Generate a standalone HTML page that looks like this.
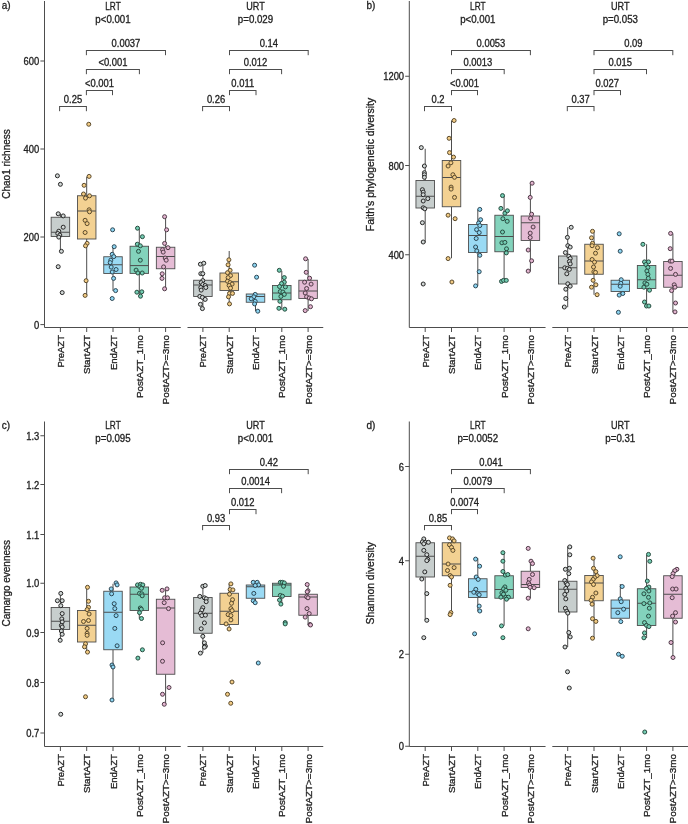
<!DOCTYPE html>
<html><head><meta charset="utf-8"><style>
html,body{margin:0;padding:0;background:#fff;}
svg{display:block;font-family:"Liberation Sans", sans-serif;will-change:transform;filter:blur(0.25px);}
text{stroke:#222;stroke-width:0.3px;}
</style></head><body>
<svg width="688" height="824" viewBox="0 0 688 824">
<rect width="688" height="824" fill="#fff"/>
<text x="1.75" y="8.70" font-size="10" text-anchor="start" fill="#222222" textLength="8.89" lengthAdjust="spacingAndGlyphs">a)</text>
<line x1="44.50" y1="1.00" x2="44.50" y2="327.50" stroke="#4d4d4d" stroke-width="1"/>
<line x1="44.50" y1="327.50" x2="180.75" y2="327.50" stroke="#4d4d4d" stroke-width="1"/>
<line x1="187.50" y1="327.50" x2="323.25" y2="327.50" stroke="#4d4d4d" stroke-width="1"/>
<line x1="40.40" y1="324.60" x2="44.50" y2="324.60" stroke="#4d4d4d" stroke-width="1"/>
<text x="39.30" y="328.70" font-size="10" text-anchor="end" fill="#222222" textLength="5.23" lengthAdjust="spacingAndGlyphs">0</text>
<line x1="40.40" y1="237.00" x2="44.50" y2="237.00" stroke="#4d4d4d" stroke-width="1"/>
<text x="39.30" y="241.10" font-size="10" text-anchor="end" fill="#222222" textLength="15.68" lengthAdjust="spacingAndGlyphs">200</text>
<line x1="40.40" y1="149.00" x2="44.50" y2="149.00" stroke="#4d4d4d" stroke-width="1"/>
<text x="39.30" y="153.10" font-size="10" text-anchor="end" fill="#222222" textLength="15.68" lengthAdjust="spacingAndGlyphs">400</text>
<line x1="40.40" y1="61.00" x2="44.50" y2="61.00" stroke="#4d4d4d" stroke-width="1"/>
<text x="39.30" y="65.10" font-size="10" text-anchor="end" fill="#222222" textLength="15.68" lengthAdjust="spacingAndGlyphs">600</text>
<text x="9.80" y="164.00" font-size="10" text-anchor="middle" fill="#222222" textLength="69.5" lengthAdjust="spacingAndGlyphs" transform="rotate(-90 9.80 164.00)">Chao1 richness</text>
<line x1="60.40" y1="327.50" x2="60.40" y2="332.00" stroke="#4d4d4d" stroke-width="1"/>
<text x="64.00" y="335.10" font-size="9.7" text-anchor="end" fill="#222222" textLength="32.5" lengthAdjust="spacingAndGlyphs" transform="rotate(-90 64.00 335.10)">PreAZT</text>
<line x1="86.70" y1="327.50" x2="86.70" y2="332.00" stroke="#4d4d4d" stroke-width="1"/>
<text x="90.30" y="335.10" font-size="9.7" text-anchor="end" fill="#222222" textLength="39" lengthAdjust="spacingAndGlyphs" transform="rotate(-90 90.30 335.10)">StartAZT</text>
<line x1="113.00" y1="327.50" x2="113.00" y2="332.00" stroke="#4d4d4d" stroke-width="1"/>
<text x="116.60" y="335.10" font-size="9.7" text-anchor="end" fill="#222222" textLength="35" lengthAdjust="spacingAndGlyphs" transform="rotate(-90 116.60 335.10)">EndAZT</text>
<line x1="139.30" y1="327.50" x2="139.30" y2="332.00" stroke="#4d4d4d" stroke-width="1"/>
<text x="142.90" y="335.10" font-size="9.7" text-anchor="end" fill="#222222" textLength="63" lengthAdjust="spacingAndGlyphs" transform="rotate(-90 142.90 335.10)">PostAZT_1mo</text>
<line x1="165.60" y1="327.50" x2="165.60" y2="332.00" stroke="#4d4d4d" stroke-width="1"/>
<text x="169.20" y="335.10" font-size="9.7" text-anchor="end" fill="#222222" textLength="69.3" lengthAdjust="spacingAndGlyphs" transform="rotate(-90 169.20 335.10)">PostAZT&gt;=3mo</text>
<text x="113.00" y="9.50" font-size="10" text-anchor="middle" fill="#222222" textLength="15.5" lengthAdjust="spacingAndGlyphs">LRT</text>
<text x="113.00" y="23.00" font-size="10" text-anchor="middle" fill="#222222" textLength="35.33" lengthAdjust="spacingAndGlyphs">p&lt;0.001</text>
<line x1="202.90" y1="327.50" x2="202.90" y2="332.00" stroke="#4d4d4d" stroke-width="1"/>
<text x="206.50" y="335.10" font-size="9.7" text-anchor="end" fill="#222222" textLength="32.5" lengthAdjust="spacingAndGlyphs" transform="rotate(-90 206.50 335.10)">PreAZT</text>
<line x1="229.20" y1="327.50" x2="229.20" y2="332.00" stroke="#4d4d4d" stroke-width="1"/>
<text x="232.80" y="335.10" font-size="9.7" text-anchor="end" fill="#222222" textLength="39" lengthAdjust="spacingAndGlyphs" transform="rotate(-90 232.80 335.10)">StartAZT</text>
<line x1="255.50" y1="327.50" x2="255.50" y2="332.00" stroke="#4d4d4d" stroke-width="1"/>
<text x="259.10" y="335.10" font-size="9.7" text-anchor="end" fill="#222222" textLength="35" lengthAdjust="spacingAndGlyphs" transform="rotate(-90 259.10 335.10)">EndAZT</text>
<line x1="281.80" y1="327.50" x2="281.80" y2="332.00" stroke="#4d4d4d" stroke-width="1"/>
<text x="285.40" y="335.10" font-size="9.7" text-anchor="end" fill="#222222" textLength="63" lengthAdjust="spacingAndGlyphs" transform="rotate(-90 285.40 335.10)">PostAZT_1mo</text>
<line x1="308.10" y1="327.50" x2="308.10" y2="332.00" stroke="#4d4d4d" stroke-width="1"/>
<text x="311.70" y="335.10" font-size="9.7" text-anchor="end" fill="#222222" textLength="69.3" lengthAdjust="spacingAndGlyphs" transform="rotate(-90 311.70 335.10)">PostAZT&gt;=3mo</text>
<text x="255.50" y="9.50" font-size="10" text-anchor="middle" fill="#222222" textLength="18.5" lengthAdjust="spacingAndGlyphs">URT</text>
<text x="255.50" y="23.00" font-size="10" text-anchor="middle" fill="#222222" textLength="35.33" lengthAdjust="spacingAndGlyphs">p=0.029</text>
<line x1="59.60" y1="106.50" x2="86.40" y2="106.50" stroke="#4d4d4d" stroke-width="1"/>
<line x1="59.60" y1="106.00" x2="59.60" y2="111.20" stroke="#4d4d4d" stroke-width="1"/>
<line x1="86.40" y1="106.00" x2="86.40" y2="111.20" stroke="#4d4d4d" stroke-width="1"/>
<text x="73.00" y="102.70" font-size="10" text-anchor="middle" fill="#222222" textLength="18.3" lengthAdjust="spacingAndGlyphs">0.25</text>
<line x1="86.40" y1="90.50" x2="112.50" y2="90.50" stroke="#4d4d4d" stroke-width="1"/>
<line x1="86.40" y1="90.00" x2="86.40" y2="95.20" stroke="#4d4d4d" stroke-width="1"/>
<line x1="112.50" y1="90.00" x2="112.50" y2="95.20" stroke="#4d4d4d" stroke-width="1"/>
<text x="99.45" y="86.70" font-size="10" text-anchor="middle" fill="#222222" textLength="29.01" lengthAdjust="spacingAndGlyphs">&lt;0.001</text>
<line x1="86.40" y1="69.50" x2="139.40" y2="69.50" stroke="#4d4d4d" stroke-width="1"/>
<line x1="86.40" y1="69.00" x2="86.40" y2="74.20" stroke="#4d4d4d" stroke-width="1"/>
<line x1="139.40" y1="69.00" x2="139.40" y2="74.20" stroke="#4d4d4d" stroke-width="1"/>
<text x="112.90" y="65.70" font-size="10" text-anchor="middle" fill="#222222" textLength="29.01" lengthAdjust="spacingAndGlyphs">&lt;0.001</text>
<line x1="86.40" y1="50.50" x2="165.50" y2="50.50" stroke="#4d4d4d" stroke-width="1"/>
<line x1="86.40" y1="50.00" x2="86.40" y2="55.20" stroke="#4d4d4d" stroke-width="1"/>
<line x1="165.50" y1="50.00" x2="165.50" y2="55.20" stroke="#4d4d4d" stroke-width="1"/>
<text x="125.95" y="46.70" font-size="10" text-anchor="middle" fill="#222222" textLength="28.75" lengthAdjust="spacingAndGlyphs">0.0037</text>
<line x1="202.60" y1="106.50" x2="229.50" y2="106.50" stroke="#4d4d4d" stroke-width="1"/>
<line x1="202.60" y1="106.00" x2="202.60" y2="111.20" stroke="#4d4d4d" stroke-width="1"/>
<line x1="229.50" y1="106.00" x2="229.50" y2="111.20" stroke="#4d4d4d" stroke-width="1"/>
<text x="216.05" y="102.70" font-size="10" text-anchor="middle" fill="#222222" textLength="18.3" lengthAdjust="spacingAndGlyphs">0.26</text>
<line x1="229.50" y1="90.50" x2="256.00" y2="90.50" stroke="#4d4d4d" stroke-width="1"/>
<line x1="229.50" y1="90.00" x2="229.50" y2="95.20" stroke="#4d4d4d" stroke-width="1"/>
<line x1="256.00" y1="90.00" x2="256.00" y2="95.20" stroke="#4d4d4d" stroke-width="1"/>
<text x="242.75" y="86.70" font-size="10" text-anchor="middle" fill="#222222" textLength="22.83" lengthAdjust="spacingAndGlyphs">0.011</text>
<line x1="229.50" y1="69.50" x2="281.60" y2="69.50" stroke="#4d4d4d" stroke-width="1"/>
<line x1="229.50" y1="69.00" x2="229.50" y2="74.20" stroke="#4d4d4d" stroke-width="1"/>
<line x1="281.60" y1="69.00" x2="281.60" y2="74.20" stroke="#4d4d4d" stroke-width="1"/>
<text x="255.55" y="65.70" font-size="10" text-anchor="middle" fill="#222222" textLength="23.52" lengthAdjust="spacingAndGlyphs">0.012</text>
<line x1="229.50" y1="50.50" x2="308.20" y2="50.50" stroke="#4d4d4d" stroke-width="1"/>
<line x1="229.50" y1="50.00" x2="229.50" y2="55.20" stroke="#4d4d4d" stroke-width="1"/>
<line x1="308.20" y1="50.00" x2="308.20" y2="55.20" stroke="#4d4d4d" stroke-width="1"/>
<text x="268.85" y="46.70" font-size="10" text-anchor="middle" fill="#222222" textLength="18.3" lengthAdjust="spacingAndGlyphs">0.14</text>
<line x1="60.40" y1="213.50" x2="60.40" y2="217.25" stroke="#4d4d4d" stroke-width="1"/>
<line x1="60.40" y1="236.50" x2="60.40" y2="251.75" stroke="#4d4d4d" stroke-width="1"/>
<rect x="51.15" y="217.25" width="18.50" height="19.25" fill="#c7cecd" stroke="#4d4d4d" stroke-width="0.9"/>
<line x1="51.15" y1="232.25" x2="69.65" y2="232.25" stroke="#4d4d4d" stroke-width="1"/>
<line x1="86.70" y1="176.75" x2="86.70" y2="195.75" stroke="#4d4d4d" stroke-width="1"/>
<line x1="86.70" y1="239.00" x2="86.70" y2="295.25" stroke="#4d4d4d" stroke-width="1"/>
<rect x="77.45" y="195.75" width="18.50" height="43.25" fill="#f3d192" stroke="#4d4d4d" stroke-width="0.9"/>
<line x1="77.45" y1="211.00" x2="95.95" y2="211.00" stroke="#4d4d4d" stroke-width="1"/>
<line x1="113.00" y1="247.25" x2="113.00" y2="256.75" stroke="#4d4d4d" stroke-width="1"/>
<line x1="113.00" y1="273.50" x2="113.00" y2="291.00" stroke="#4d4d4d" stroke-width="1"/>
<rect x="103.75" y="256.75" width="18.50" height="16.75" fill="#9adaf4" stroke="#4d4d4d" stroke-width="0.9"/>
<line x1="103.75" y1="264.75" x2="122.25" y2="264.75" stroke="#4d4d4d" stroke-width="1"/>
<line x1="139.30" y1="228.00" x2="139.30" y2="246.25" stroke="#4d4d4d" stroke-width="1"/>
<line x1="139.30" y1="273.40" x2="139.30" y2="296.50" stroke="#4d4d4d" stroke-width="1"/>
<rect x="130.05" y="246.25" width="18.50" height="27.15" fill="#83d3bc" stroke="#4d4d4d" stroke-width="0.9"/>
<line x1="130.05" y1="265.60" x2="148.55" y2="265.60" stroke="#4d4d4d" stroke-width="1"/>
<line x1="165.60" y1="216.25" x2="165.60" y2="247.25" stroke="#4d4d4d" stroke-width="1"/>
<line x1="165.60" y1="268.75" x2="165.60" y2="289.00" stroke="#4d4d4d" stroke-width="1"/>
<rect x="156.35" y="247.25" width="18.50" height="21.50" fill="#e5bcd5" stroke="#4d4d4d" stroke-width="0.9"/>
<line x1="156.35" y1="256.50" x2="174.85" y2="256.50" stroke="#4d4d4d" stroke-width="1"/>
<line x1="202.90" y1="262.00" x2="202.90" y2="280.25" stroke="#4d4d4d" stroke-width="1"/>
<line x1="202.90" y1="296.50" x2="202.90" y2="308.50" stroke="#4d4d4d" stroke-width="1"/>
<rect x="193.65" y="280.25" width="18.50" height="16.25" fill="#c7cecd" stroke="#4d4d4d" stroke-width="0.9"/>
<line x1="193.65" y1="285.00" x2="212.15" y2="285.00" stroke="#4d4d4d" stroke-width="1"/>
<line x1="229.20" y1="251.00" x2="229.20" y2="273.00" stroke="#4d4d4d" stroke-width="1"/>
<line x1="229.20" y1="290.50" x2="229.20" y2="304.00" stroke="#4d4d4d" stroke-width="1"/>
<rect x="219.95" y="273.00" width="18.50" height="17.50" fill="#f3d192" stroke="#4d4d4d" stroke-width="0.9"/>
<line x1="219.95" y1="281.75" x2="238.45" y2="281.75" stroke="#4d4d4d" stroke-width="1"/>
<line x1="255.50" y1="294.00" x2="255.50" y2="294.00" stroke="#4d4d4d" stroke-width="1"/>
<line x1="255.50" y1="302.25" x2="255.50" y2="311.00" stroke="#4d4d4d" stroke-width="1"/>
<rect x="246.25" y="294.00" width="18.50" height="8.25" fill="#9adaf4" stroke="#4d4d4d" stroke-width="0.9"/>
<line x1="246.25" y1="296.50" x2="264.75" y2="296.50" stroke="#4d4d4d" stroke-width="1"/>
<line x1="281.80" y1="271.00" x2="281.80" y2="285.50" stroke="#4d4d4d" stroke-width="1"/>
<line x1="281.80" y1="299.75" x2="281.80" y2="309.75" stroke="#4d4d4d" stroke-width="1"/>
<rect x="272.55" y="285.50" width="18.50" height="14.25" fill="#83d3bc" stroke="#4d4d4d" stroke-width="0.9"/>
<line x1="272.55" y1="293.00" x2="291.05" y2="293.00" stroke="#4d4d4d" stroke-width="1"/>
<line x1="308.10" y1="259.00" x2="308.10" y2="280.25" stroke="#4d4d4d" stroke-width="1"/>
<line x1="308.10" y1="298.50" x2="308.10" y2="311.00" stroke="#4d4d4d" stroke-width="1"/>
<rect x="298.85" y="280.25" width="18.50" height="18.25" fill="#e5bcd5" stroke="#4d4d4d" stroke-width="0.9"/>
<line x1="298.85" y1="291.00" x2="317.35" y2="291.00" stroke="#4d4d4d" stroke-width="1"/>
<circle cx="57.40" cy="175.80" r="2" fill="#d0d6d5" stroke="#262626" stroke-width="1"/>
<circle cx="60.40" cy="184.30" r="2" fill="#d0d6d5" stroke="#262626" stroke-width="1"/>
<circle cx="58.20" cy="213.80" r="2" fill="#d0d6d5" stroke="#262626" stroke-width="1"/>
<circle cx="63.20" cy="215.90" r="2" fill="#d0d6d5" stroke="#262626" stroke-width="1"/>
<circle cx="63.20" cy="227.20" r="2" fill="#d0d6d5" stroke="#262626" stroke-width="1"/>
<circle cx="58.80" cy="231.20" r="2" fill="#d0d6d5" stroke="#262626" stroke-width="1"/>
<circle cx="57.80" cy="233.50" r="2" fill="#d0d6d5" stroke="#262626" stroke-width="1"/>
<circle cx="59.80" cy="235.10" r="2" fill="#d0d6d5" stroke="#262626" stroke-width="1"/>
<circle cx="58.80" cy="237.10" r="2" fill="#d0d6d5" stroke="#262626" stroke-width="1"/>
<circle cx="61.40" cy="251.30" r="2" fill="#d0d6d5" stroke="#262626" stroke-width="1"/>
<circle cx="58.20" cy="266.70" r="2" fill="#d0d6d5" stroke="#262626" stroke-width="1"/>
<circle cx="62.20" cy="292.60" r="2" fill="#d0d6d5" stroke="#262626" stroke-width="1"/>
<circle cx="88.75" cy="124.25" r="2" fill="#f2cb84" stroke="#5a4a2c" stroke-width="1"/>
<circle cx="89.10" cy="176.40" r="2" fill="#f2cb84" stroke="#5a4a2c" stroke-width="1"/>
<circle cx="84.10" cy="185.30" r="2" fill="#f2cb84" stroke="#5a4a2c" stroke-width="1"/>
<circle cx="83.50" cy="194.00" r="2" fill="#f2cb84" stroke="#5a4a2c" stroke-width="1"/>
<circle cx="89.50" cy="195.80" r="2" fill="#f2cb84" stroke="#5a4a2c" stroke-width="1"/>
<circle cx="85.50" cy="198.10" r="2" fill="#f2cb84" stroke="#5a4a2c" stroke-width="1"/>
<circle cx="89.10" cy="209.80" r="2" fill="#f2cb84" stroke="#5a4a2c" stroke-width="1"/>
<circle cx="89.50" cy="211.80" r="2" fill="#f2cb84" stroke="#5a4a2c" stroke-width="1"/>
<circle cx="85.10" cy="220.30" r="2" fill="#f2cb84" stroke="#5a4a2c" stroke-width="1"/>
<circle cx="87.10" cy="223.60" r="2" fill="#f2cb84" stroke="#5a4a2c" stroke-width="1"/>
<circle cx="85.10" cy="232.50" r="2" fill="#f2cb84" stroke="#5a4a2c" stroke-width="1"/>
<circle cx="87.10" cy="243.40" r="2" fill="#f2cb84" stroke="#5a4a2c" stroke-width="1"/>
<circle cx="85.50" cy="245.80" r="2" fill="#f2cb84" stroke="#5a4a2c" stroke-width="1"/>
<circle cx="86.10" cy="280.70" r="2" fill="#f2cb84" stroke="#5a4a2c" stroke-width="1"/>
<circle cx="85.10" cy="295.40" r="2" fill="#f2cb84" stroke="#5a4a2c" stroke-width="1"/>
<circle cx="112.60" cy="229.80" r="2" fill="#8cd5f2" stroke="#2e4754" stroke-width="1"/>
<circle cx="114.20" cy="246.70" r="2" fill="#8cd5f2" stroke="#2e4754" stroke-width="1"/>
<circle cx="112.20" cy="254.30" r="2" fill="#8cd5f2" stroke="#2e4754" stroke-width="1"/>
<circle cx="113.80" cy="256.60" r="2" fill="#8cd5f2" stroke="#2e4754" stroke-width="1"/>
<circle cx="110.80" cy="260.20" r="2" fill="#8cd5f2" stroke="#2e4754" stroke-width="1"/>
<circle cx="110.20" cy="262.60" r="2" fill="#8cd5f2" stroke="#2e4754" stroke-width="1"/>
<circle cx="111.20" cy="267.10" r="2" fill="#8cd5f2" stroke="#2e4754" stroke-width="1"/>
<circle cx="116.10" cy="269.50" r="2" fill="#8cd5f2" stroke="#2e4754" stroke-width="1"/>
<circle cx="112.20" cy="272.00" r="2" fill="#8cd5f2" stroke="#2e4754" stroke-width="1"/>
<circle cx="113.60" cy="278.40" r="2" fill="#8cd5f2" stroke="#2e4754" stroke-width="1"/>
<circle cx="115.60" cy="290.60" r="2" fill="#8cd5f2" stroke="#2e4754" stroke-width="1"/>
<circle cx="112.20" cy="298.50" r="2" fill="#8cd5f2" stroke="#2e4754" stroke-width="1"/>
<circle cx="137.50" cy="228.20" r="2" fill="#74cdb3" stroke="#284c40" stroke-width="1"/>
<circle cx="142.40" cy="236.70" r="2" fill="#74cdb3" stroke="#284c40" stroke-width="1"/>
<circle cx="137.30" cy="244.20" r="2" fill="#74cdb3" stroke="#284c40" stroke-width="1"/>
<circle cx="140.30" cy="245.80" r="2" fill="#74cdb3" stroke="#284c40" stroke-width="1"/>
<circle cx="138.50" cy="251.30" r="2" fill="#74cdb3" stroke="#284c40" stroke-width="1"/>
<circle cx="140.30" cy="260.20" r="2" fill="#74cdb3" stroke="#284c40" stroke-width="1"/>
<circle cx="136.10" cy="270.10" r="2" fill="#74cdb3" stroke="#284c40" stroke-width="1"/>
<circle cx="137.90" cy="273.00" r="2" fill="#74cdb3" stroke="#284c40" stroke-width="1"/>
<circle cx="142.20" cy="273.00" r="2" fill="#74cdb3" stroke="#284c40" stroke-width="1"/>
<circle cx="136.90" cy="292.20" r="2" fill="#74cdb3" stroke="#284c40" stroke-width="1"/>
<circle cx="141.80" cy="291.80" r="2" fill="#74cdb3" stroke="#284c40" stroke-width="1"/>
<circle cx="140.50" cy="296.20" r="2" fill="#74cdb3" stroke="#284c40" stroke-width="1"/>
<circle cx="164.60" cy="216.70" r="2" fill="#e2b4cf" stroke="#4f3a47" stroke-width="1"/>
<circle cx="166.60" cy="229.80" r="2" fill="#e2b4cf" stroke="#4f3a47" stroke-width="1"/>
<circle cx="164.60" cy="243.40" r="2" fill="#e2b4cf" stroke="#4f3a47" stroke-width="1"/>
<circle cx="162.60" cy="249.70" r="2" fill="#e2b4cf" stroke="#4f3a47" stroke-width="1"/>
<circle cx="168.00" cy="247.70" r="2" fill="#e2b4cf" stroke="#4f3a47" stroke-width="1"/>
<circle cx="163.20" cy="252.10" r="2" fill="#e2b4cf" stroke="#4f3a47" stroke-width="1"/>
<circle cx="165.20" cy="258.00" r="2" fill="#e2b4cf" stroke="#4f3a47" stroke-width="1"/>
<circle cx="166.20" cy="260.20" r="2" fill="#e2b4cf" stroke="#4f3a47" stroke-width="1"/>
<circle cx="163.60" cy="266.90" r="2" fill="#e2b4cf" stroke="#4f3a47" stroke-width="1"/>
<circle cx="162.20" cy="273.80" r="2" fill="#e2b4cf" stroke="#4f3a47" stroke-width="1"/>
<circle cx="162.00" cy="278.40" r="2" fill="#e2b4cf" stroke="#4f3a47" stroke-width="1"/>
<circle cx="164.60" cy="288.80" r="2" fill="#e2b4cf" stroke="#4f3a47" stroke-width="1"/>
<circle cx="200.40" cy="264.20" r="2" fill="#d0d6d5" stroke="#262626" stroke-width="1"/>
<circle cx="203.80" cy="263.20" r="2" fill="#d0d6d5" stroke="#262626" stroke-width="1"/>
<circle cx="200.80" cy="273.70" r="2" fill="#d0d6d5" stroke="#262626" stroke-width="1"/>
<circle cx="202.80" cy="273.70" r="2" fill="#d0d6d5" stroke="#262626" stroke-width="1"/>
<circle cx="202.80" cy="280.60" r="2" fill="#d0d6d5" stroke="#262626" stroke-width="1"/>
<circle cx="201.20" cy="282.60" r="2" fill="#d0d6d5" stroke="#262626" stroke-width="1"/>
<circle cx="202.80" cy="284.50" r="2" fill="#d0d6d5" stroke="#262626" stroke-width="1"/>
<circle cx="205.20" cy="285.50" r="2" fill="#d0d6d5" stroke="#262626" stroke-width="1"/>
<circle cx="205.80" cy="287.50" r="2" fill="#d0d6d5" stroke="#262626" stroke-width="1"/>
<circle cx="200.80" cy="287.50" r="2" fill="#d0d6d5" stroke="#262626" stroke-width="1"/>
<circle cx="201.20" cy="290.10" r="2" fill="#d0d6d5" stroke="#262626" stroke-width="1"/>
<circle cx="199.80" cy="296.40" r="2" fill="#d0d6d5" stroke="#262626" stroke-width="1"/>
<circle cx="202.40" cy="297.40" r="2" fill="#d0d6d5" stroke="#262626" stroke-width="1"/>
<circle cx="205.20" cy="299.40" r="2" fill="#d0d6d5" stroke="#262626" stroke-width="1"/>
<circle cx="200.40" cy="304.30" r="2" fill="#d0d6d5" stroke="#262626" stroke-width="1"/>
<circle cx="202.40" cy="308.60" r="2" fill="#d0d6d5" stroke="#262626" stroke-width="1"/>
<circle cx="228.90" cy="259.80" r="2" fill="#f2cb84" stroke="#5a4a2c" stroke-width="1"/>
<circle cx="228.10" cy="264.80" r="2" fill="#f2cb84" stroke="#5a4a2c" stroke-width="1"/>
<circle cx="230.10" cy="270.30" r="2" fill="#f2cb84" stroke="#5a4a2c" stroke-width="1"/>
<circle cx="227.50" cy="272.70" r="2" fill="#f2cb84" stroke="#5a4a2c" stroke-width="1"/>
<circle cx="230.50" cy="275.60" r="2" fill="#f2cb84" stroke="#5a4a2c" stroke-width="1"/>
<circle cx="228.10" cy="277.60" r="2" fill="#f2cb84" stroke="#5a4a2c" stroke-width="1"/>
<circle cx="227.50" cy="281.20" r="2" fill="#f2cb84" stroke="#5a4a2c" stroke-width="1"/>
<circle cx="230.10" cy="282.60" r="2" fill="#f2cb84" stroke="#5a4a2c" stroke-width="1"/>
<circle cx="232.10" cy="284.10" r="2" fill="#f2cb84" stroke="#5a4a2c" stroke-width="1"/>
<circle cx="229.10" cy="285.50" r="2" fill="#f2cb84" stroke="#5a4a2c" stroke-width="1"/>
<circle cx="230.50" cy="288.10" r="2" fill="#f2cb84" stroke="#5a4a2c" stroke-width="1"/>
<circle cx="229.50" cy="293.40" r="2" fill="#f2cb84" stroke="#5a4a2c" stroke-width="1"/>
<circle cx="232.50" cy="293.40" r="2" fill="#f2cb84" stroke="#5a4a2c" stroke-width="1"/>
<circle cx="228.50" cy="296.80" r="2" fill="#f2cb84" stroke="#5a4a2c" stroke-width="1"/>
<circle cx="229.50" cy="303.90" r="2" fill="#f2cb84" stroke="#5a4a2c" stroke-width="1"/>
<circle cx="254.60" cy="265.20" r="2" fill="#8cd5f2" stroke="#2e4754" stroke-width="1"/>
<circle cx="256.60" cy="277.20" r="2" fill="#8cd5f2" stroke="#2e4754" stroke-width="1"/>
<circle cx="255.20" cy="294.40" r="2" fill="#8cd5f2" stroke="#2e4754" stroke-width="1"/>
<circle cx="253.80" cy="296.80" r="2" fill="#8cd5f2" stroke="#2e4754" stroke-width="1"/>
<circle cx="251.20" cy="298.80" r="2" fill="#8cd5f2" stroke="#2e4754" stroke-width="1"/>
<circle cx="255.20" cy="301.30" r="2" fill="#8cd5f2" stroke="#2e4754" stroke-width="1"/>
<circle cx="254.60" cy="303.90" r="2" fill="#8cd5f2" stroke="#2e4754" stroke-width="1"/>
<circle cx="257.80" cy="311.20" r="2" fill="#8cd5f2" stroke="#2e4754" stroke-width="1"/>
<circle cx="279.30" cy="270.30" r="2" fill="#74cdb3" stroke="#284c40" stroke-width="1"/>
<circle cx="284.30" cy="277.60" r="2" fill="#74cdb3" stroke="#284c40" stroke-width="1"/>
<circle cx="284.30" cy="282.20" r="2" fill="#74cdb3" stroke="#284c40" stroke-width="1"/>
<circle cx="281.50" cy="283.50" r="2" fill="#74cdb3" stroke="#284c40" stroke-width="1"/>
<circle cx="279.50" cy="286.50" r="2" fill="#74cdb3" stroke="#284c40" stroke-width="1"/>
<circle cx="285.40" cy="286.90" r="2" fill="#74cdb3" stroke="#284c40" stroke-width="1"/>
<circle cx="280.30" cy="291.50" r="2" fill="#74cdb3" stroke="#284c40" stroke-width="1"/>
<circle cx="282.90" cy="292.00" r="2" fill="#74cdb3" stroke="#284c40" stroke-width="1"/>
<circle cx="284.30" cy="294.40" r="2" fill="#74cdb3" stroke="#284c40" stroke-width="1"/>
<circle cx="280.90" cy="296.40" r="2" fill="#74cdb3" stroke="#284c40" stroke-width="1"/>
<circle cx="279.90" cy="301.30" r="2" fill="#74cdb3" stroke="#284c40" stroke-width="1"/>
<circle cx="278.90" cy="308.30" r="2" fill="#74cdb3" stroke="#284c40" stroke-width="1"/>
<circle cx="284.80" cy="309.20" r="2" fill="#74cdb3" stroke="#284c40" stroke-width="1"/>
<circle cx="305.60" cy="258.80" r="2" fill="#e2b4cf" stroke="#4f3a47" stroke-width="1"/>
<circle cx="306.20" cy="272.30" r="2" fill="#e2b4cf" stroke="#4f3a47" stroke-width="1"/>
<circle cx="309.60" cy="278.20" r="2" fill="#e2b4cf" stroke="#4f3a47" stroke-width="1"/>
<circle cx="304.60" cy="282.20" r="2" fill="#e2b4cf" stroke="#4f3a47" stroke-width="1"/>
<circle cx="311.10" cy="284.10" r="2" fill="#e2b4cf" stroke="#4f3a47" stroke-width="1"/>
<circle cx="306.60" cy="288.50" r="2" fill="#e2b4cf" stroke="#4f3a47" stroke-width="1"/>
<circle cx="305.20" cy="293.00" r="2" fill="#e2b4cf" stroke="#4f3a47" stroke-width="1"/>
<circle cx="306.60" cy="296.80" r="2" fill="#e2b4cf" stroke="#4f3a47" stroke-width="1"/>
<circle cx="309.20" cy="298.00" r="2" fill="#e2b4cf" stroke="#4f3a47" stroke-width="1"/>
<circle cx="311.50" cy="298.80" r="2" fill="#e2b4cf" stroke="#4f3a47" stroke-width="1"/>
<circle cx="310.50" cy="306.70" r="2" fill="#e2b4cf" stroke="#4f3a47" stroke-width="1"/>
<circle cx="305.20" cy="310.60" r="2" fill="#e2b4cf" stroke="#4f3a47" stroke-width="1"/>
<text x="366.55" y="8.70" font-size="10" text-anchor="start" fill="#222222" textLength="8.89" lengthAdjust="spacingAndGlyphs">b)</text>
<line x1="409.30" y1="1.00" x2="409.30" y2="327.50" stroke="#4d4d4d" stroke-width="1"/>
<line x1="409.30" y1="327.50" x2="545.55" y2="327.50" stroke="#4d4d4d" stroke-width="1"/>
<line x1="552.30" y1="327.50" x2="688.00" y2="327.50" stroke="#4d4d4d" stroke-width="1"/>
<line x1="405.20" y1="254.75" x2="409.30" y2="254.75" stroke="#4d4d4d" stroke-width="1"/>
<text x="404.10" y="258.85" font-size="10" text-anchor="end" fill="#222222" textLength="15.68" lengthAdjust="spacingAndGlyphs">400</text>
<line x1="405.20" y1="165.50" x2="409.30" y2="165.50" stroke="#4d4d4d" stroke-width="1"/>
<text x="404.10" y="169.60" font-size="10" text-anchor="end" fill="#222222" textLength="15.68" lengthAdjust="spacingAndGlyphs">800</text>
<line x1="405.20" y1="76.25" x2="409.30" y2="76.25" stroke="#4d4d4d" stroke-width="1"/>
<text x="404.10" y="80.35" font-size="10" text-anchor="end" fill="#222222" textLength="20.91" lengthAdjust="spacingAndGlyphs">1200</text>
<text x="373.80" y="164.50" font-size="10" text-anchor="middle" fill="#222222" textLength="133.3" lengthAdjust="spacingAndGlyphs" transform="rotate(-90 373.80 164.50)">Faith's phylogenetic diversity</text>
<line x1="425.20" y1="327.50" x2="425.20" y2="332.00" stroke="#4d4d4d" stroke-width="1"/>
<text x="428.80" y="335.10" font-size="9.7" text-anchor="end" fill="#222222" textLength="32.5" lengthAdjust="spacingAndGlyphs" transform="rotate(-90 428.80 335.10)">PreAZT</text>
<line x1="451.50" y1="327.50" x2="451.50" y2="332.00" stroke="#4d4d4d" stroke-width="1"/>
<text x="455.10" y="335.10" font-size="9.7" text-anchor="end" fill="#222222" textLength="39" lengthAdjust="spacingAndGlyphs" transform="rotate(-90 455.10 335.10)">StartAZT</text>
<line x1="477.80" y1="327.50" x2="477.80" y2="332.00" stroke="#4d4d4d" stroke-width="1"/>
<text x="481.40" y="335.10" font-size="9.7" text-anchor="end" fill="#222222" textLength="35" lengthAdjust="spacingAndGlyphs" transform="rotate(-90 481.40 335.10)">EndAZT</text>
<line x1="504.10" y1="327.50" x2="504.10" y2="332.00" stroke="#4d4d4d" stroke-width="1"/>
<text x="507.70" y="335.10" font-size="9.7" text-anchor="end" fill="#222222" textLength="63" lengthAdjust="spacingAndGlyphs" transform="rotate(-90 507.70 335.10)">PostAZT_1mo</text>
<line x1="530.40" y1="327.50" x2="530.40" y2="332.00" stroke="#4d4d4d" stroke-width="1"/>
<text x="534.00" y="335.10" font-size="9.7" text-anchor="end" fill="#222222" textLength="69.3" lengthAdjust="spacingAndGlyphs" transform="rotate(-90 534.00 335.10)">PostAZT&gt;=3mo</text>
<text x="477.80" y="9.50" font-size="10" text-anchor="middle" fill="#222222" textLength="15.5" lengthAdjust="spacingAndGlyphs">LRT</text>
<text x="477.80" y="23.00" font-size="10" text-anchor="middle" fill="#222222" textLength="35.33" lengthAdjust="spacingAndGlyphs">p&lt;0.001</text>
<line x1="567.70" y1="327.50" x2="567.70" y2="332.00" stroke="#4d4d4d" stroke-width="1"/>
<text x="571.30" y="335.10" font-size="9.7" text-anchor="end" fill="#222222" textLength="32.5" lengthAdjust="spacingAndGlyphs" transform="rotate(-90 571.30 335.10)">PreAZT</text>
<line x1="594.00" y1="327.50" x2="594.00" y2="332.00" stroke="#4d4d4d" stroke-width="1"/>
<text x="597.60" y="335.10" font-size="9.7" text-anchor="end" fill="#222222" textLength="39" lengthAdjust="spacingAndGlyphs" transform="rotate(-90 597.60 335.10)">StartAZT</text>
<line x1="620.30" y1="327.50" x2="620.30" y2="332.00" stroke="#4d4d4d" stroke-width="1"/>
<text x="623.90" y="335.10" font-size="9.7" text-anchor="end" fill="#222222" textLength="35" lengthAdjust="spacingAndGlyphs" transform="rotate(-90 623.90 335.10)">EndAZT</text>
<line x1="646.60" y1="327.50" x2="646.60" y2="332.00" stroke="#4d4d4d" stroke-width="1"/>
<text x="650.20" y="335.10" font-size="9.7" text-anchor="end" fill="#222222" textLength="63" lengthAdjust="spacingAndGlyphs" transform="rotate(-90 650.20 335.10)">PostAZT_1mo</text>
<line x1="672.90" y1="327.50" x2="672.90" y2="332.00" stroke="#4d4d4d" stroke-width="1"/>
<text x="676.50" y="335.10" font-size="9.7" text-anchor="end" fill="#222222" textLength="69.3" lengthAdjust="spacingAndGlyphs" transform="rotate(-90 676.50 335.10)">PostAZT&gt;=3mo</text>
<text x="620.30" y="9.50" font-size="10" text-anchor="middle" fill="#222222" textLength="18.5" lengthAdjust="spacingAndGlyphs">URT</text>
<text x="620.30" y="23.00" font-size="10" text-anchor="middle" fill="#222222" textLength="35.33" lengthAdjust="spacingAndGlyphs">p=0.053</text>
<line x1="424.50" y1="106.50" x2="451.50" y2="106.50" stroke="#4d4d4d" stroke-width="1"/>
<line x1="424.50" y1="106.00" x2="424.50" y2="111.20" stroke="#4d4d4d" stroke-width="1"/>
<line x1="451.50" y1="106.00" x2="451.50" y2="111.20" stroke="#4d4d4d" stroke-width="1"/>
<text x="438.00" y="102.70" font-size="10" text-anchor="middle" fill="#222222" textLength="13.07" lengthAdjust="spacingAndGlyphs">0.2</text>
<line x1="451.50" y1="90.50" x2="477.50" y2="90.50" stroke="#4d4d4d" stroke-width="1"/>
<line x1="451.50" y1="90.00" x2="451.50" y2="95.20" stroke="#4d4d4d" stroke-width="1"/>
<line x1="477.50" y1="90.00" x2="477.50" y2="95.20" stroke="#4d4d4d" stroke-width="1"/>
<text x="464.50" y="86.70" font-size="10" text-anchor="middle" fill="#222222" textLength="29.01" lengthAdjust="spacingAndGlyphs">&lt;0.001</text>
<line x1="451.50" y1="69.50" x2="504.20" y2="69.50" stroke="#4d4d4d" stroke-width="1"/>
<line x1="451.50" y1="69.00" x2="451.50" y2="74.20" stroke="#4d4d4d" stroke-width="1"/>
<line x1="504.20" y1="69.00" x2="504.20" y2="74.20" stroke="#4d4d4d" stroke-width="1"/>
<text x="477.85" y="65.70" font-size="10" text-anchor="middle" fill="#222222" textLength="28.75" lengthAdjust="spacingAndGlyphs">0.0013</text>
<line x1="451.50" y1="50.50" x2="530.40" y2="50.50" stroke="#4d4d4d" stroke-width="1"/>
<line x1="451.50" y1="50.00" x2="451.50" y2="55.20" stroke="#4d4d4d" stroke-width="1"/>
<line x1="530.40" y1="50.00" x2="530.40" y2="55.20" stroke="#4d4d4d" stroke-width="1"/>
<text x="490.95" y="46.70" font-size="10" text-anchor="middle" fill="#222222" textLength="28.75" lengthAdjust="spacingAndGlyphs">0.0053</text>
<line x1="567.30" y1="106.50" x2="594.00" y2="106.50" stroke="#4d4d4d" stroke-width="1"/>
<line x1="567.30" y1="106.00" x2="567.30" y2="111.20" stroke="#4d4d4d" stroke-width="1"/>
<line x1="594.00" y1="106.00" x2="594.00" y2="111.20" stroke="#4d4d4d" stroke-width="1"/>
<text x="580.65" y="102.70" font-size="10" text-anchor="middle" fill="#222222" textLength="18.3" lengthAdjust="spacingAndGlyphs">0.37</text>
<line x1="594.00" y1="90.50" x2="620.50" y2="90.50" stroke="#4d4d4d" stroke-width="1"/>
<line x1="594.00" y1="90.00" x2="594.00" y2="95.20" stroke="#4d4d4d" stroke-width="1"/>
<line x1="620.50" y1="90.00" x2="620.50" y2="95.20" stroke="#4d4d4d" stroke-width="1"/>
<text x="607.25" y="86.70" font-size="10" text-anchor="middle" fill="#222222" textLength="23.52" lengthAdjust="spacingAndGlyphs">0.027</text>
<line x1="594.00" y1="69.50" x2="646.50" y2="69.50" stroke="#4d4d4d" stroke-width="1"/>
<line x1="594.00" y1="69.00" x2="594.00" y2="74.20" stroke="#4d4d4d" stroke-width="1"/>
<line x1="646.50" y1="69.00" x2="646.50" y2="74.20" stroke="#4d4d4d" stroke-width="1"/>
<text x="620.25" y="65.70" font-size="10" text-anchor="middle" fill="#222222" textLength="23.52" lengthAdjust="spacingAndGlyphs">0.015</text>
<line x1="594.00" y1="50.50" x2="672.80" y2="50.50" stroke="#4d4d4d" stroke-width="1"/>
<line x1="594.00" y1="50.00" x2="594.00" y2="55.20" stroke="#4d4d4d" stroke-width="1"/>
<line x1="672.80" y1="50.00" x2="672.80" y2="55.20" stroke="#4d4d4d" stroke-width="1"/>
<text x="633.40" y="46.70" font-size="10" text-anchor="middle" fill="#222222" textLength="18.3" lengthAdjust="spacingAndGlyphs">0.09</text>
<line x1="425.20" y1="148.75" x2="425.20" y2="180.50" stroke="#4d4d4d" stroke-width="1"/>
<line x1="425.20" y1="208.00" x2="425.20" y2="242.50" stroke="#4d4d4d" stroke-width="1"/>
<rect x="415.95" y="180.50" width="18.50" height="27.50" fill="#c7cecd" stroke="#4d4d4d" stroke-width="0.9"/>
<line x1="415.95" y1="196.25" x2="434.45" y2="196.25" stroke="#4d4d4d" stroke-width="1"/>
<line x1="451.50" y1="120.50" x2="451.50" y2="160.50" stroke="#4d4d4d" stroke-width="1"/>
<line x1="451.50" y1="206.75" x2="451.50" y2="258.25" stroke="#4d4d4d" stroke-width="1"/>
<rect x="442.25" y="160.50" width="18.50" height="46.25" fill="#f3d192" stroke="#4d4d4d" stroke-width="0.9"/>
<line x1="442.25" y1="177.50" x2="460.75" y2="177.50" stroke="#4d4d4d" stroke-width="1"/>
<line x1="477.80" y1="209.25" x2="477.80" y2="224.50" stroke="#4d4d4d" stroke-width="1"/>
<line x1="477.80" y1="252.50" x2="477.80" y2="285.75" stroke="#4d4d4d" stroke-width="1"/>
<rect x="468.55" y="224.50" width="18.50" height="28.00" fill="#9adaf4" stroke="#4d4d4d" stroke-width="0.9"/>
<line x1="468.55" y1="235.50" x2="487.05" y2="235.50" stroke="#4d4d4d" stroke-width="1"/>
<line x1="504.10" y1="195.50" x2="504.10" y2="215.25" stroke="#4d4d4d" stroke-width="1"/>
<line x1="504.10" y1="251.75" x2="504.10" y2="280.50" stroke="#4d4d4d" stroke-width="1"/>
<rect x="494.85" y="215.25" width="18.50" height="36.50" fill="#83d3bc" stroke="#4d4d4d" stroke-width="0.9"/>
<line x1="494.85" y1="236.50" x2="513.35" y2="236.50" stroke="#4d4d4d" stroke-width="1"/>
<line x1="530.40" y1="183.25" x2="530.40" y2="216.00" stroke="#4d4d4d" stroke-width="1"/>
<line x1="530.40" y1="240.50" x2="530.40" y2="271.50" stroke="#4d4d4d" stroke-width="1"/>
<rect x="521.15" y="216.00" width="18.50" height="24.50" fill="#e5bcd5" stroke="#4d4d4d" stroke-width="0.9"/>
<line x1="521.15" y1="222.75" x2="539.65" y2="222.75" stroke="#4d4d4d" stroke-width="1"/>
<line x1="567.70" y1="227.25" x2="567.70" y2="256.00" stroke="#4d4d4d" stroke-width="1"/>
<line x1="567.70" y1="284.00" x2="567.70" y2="307.25" stroke="#4d4d4d" stroke-width="1"/>
<rect x="558.45" y="256.00" width="18.50" height="28.00" fill="#c7cecd" stroke="#4d4d4d" stroke-width="0.9"/>
<line x1="558.45" y1="267.75" x2="576.95" y2="267.75" stroke="#4d4d4d" stroke-width="1"/>
<line x1="594.00" y1="231.00" x2="594.00" y2="244.25" stroke="#4d4d4d" stroke-width="1"/>
<line x1="594.00" y1="274.25" x2="594.00" y2="294.75" stroke="#4d4d4d" stroke-width="1"/>
<rect x="584.75" y="244.25" width="18.50" height="30.00" fill="#f3d192" stroke="#4d4d4d" stroke-width="0.9"/>
<line x1="584.75" y1="261.00" x2="603.25" y2="261.00" stroke="#4d4d4d" stroke-width="1"/>
<line x1="620.30" y1="280.25" x2="620.30" y2="280.25" stroke="#4d4d4d" stroke-width="1"/>
<line x1="620.30" y1="291.50" x2="620.30" y2="294.00" stroke="#4d4d4d" stroke-width="1"/>
<rect x="611.05" y="280.25" width="18.50" height="11.25" fill="#9adaf4" stroke="#4d4d4d" stroke-width="0.9"/>
<line x1="611.05" y1="284.25" x2="629.55" y2="284.25" stroke="#4d4d4d" stroke-width="1"/>
<line x1="646.60" y1="244.25" x2="646.60" y2="265.50" stroke="#4d4d4d" stroke-width="1"/>
<line x1="646.60" y1="288.50" x2="646.60" y2="306.00" stroke="#4d4d4d" stroke-width="1"/>
<rect x="637.35" y="265.50" width="18.50" height="23.00" fill="#83d3bc" stroke="#4d4d4d" stroke-width="0.9"/>
<line x1="637.35" y1="279.75" x2="655.85" y2="279.75" stroke="#4d4d4d" stroke-width="1"/>
<line x1="672.90" y1="233.50" x2="672.90" y2="261.50" stroke="#4d4d4d" stroke-width="1"/>
<line x1="672.90" y1="287.25" x2="672.90" y2="312.25" stroke="#4d4d4d" stroke-width="1"/>
<rect x="663.65" y="261.50" width="18.50" height="25.75" fill="#e5bcd5" stroke="#4d4d4d" stroke-width="0.9"/>
<line x1="663.65" y1="275.25" x2="682.15" y2="275.25" stroke="#4d4d4d" stroke-width="1"/>
<circle cx="421.30" cy="147.60" r="2" fill="#d0d6d5" stroke="#262626" stroke-width="1"/>
<circle cx="424.40" cy="166.00" r="2" fill="#d0d6d5" stroke="#262626" stroke-width="1"/>
<circle cx="424.40" cy="172.70" r="2" fill="#d0d6d5" stroke="#262626" stroke-width="1"/>
<circle cx="424.40" cy="174.70" r="2" fill="#d0d6d5" stroke="#262626" stroke-width="1"/>
<circle cx="424.40" cy="177.30" r="2" fill="#d0d6d5" stroke="#262626" stroke-width="1"/>
<circle cx="422.40" cy="189.70" r="2" fill="#d0d6d5" stroke="#262626" stroke-width="1"/>
<circle cx="423.20" cy="192.10" r="2" fill="#d0d6d5" stroke="#262626" stroke-width="1"/>
<circle cx="423.20" cy="194.70" r="2" fill="#d0d6d5" stroke="#262626" stroke-width="1"/>
<circle cx="427.80" cy="198.60" r="2" fill="#d0d6d5" stroke="#262626" stroke-width="1"/>
<circle cx="423.20" cy="201.00" r="2" fill="#d0d6d5" stroke="#262626" stroke-width="1"/>
<circle cx="423.20" cy="207.80" r="2" fill="#d0d6d5" stroke="#262626" stroke-width="1"/>
<circle cx="424.80" cy="208.80" r="2" fill="#d0d6d5" stroke="#262626" stroke-width="1"/>
<circle cx="422.40" cy="222.70" r="2" fill="#d0d6d5" stroke="#262626" stroke-width="1"/>
<circle cx="423.20" cy="242.00" r="2" fill="#d0d6d5" stroke="#262626" stroke-width="1"/>
<circle cx="423.20" cy="284.00" r="2" fill="#d0d6d5" stroke="#262626" stroke-width="1"/>
<circle cx="454.10" cy="120.50" r="2" fill="#f2cb84" stroke="#5a4a2c" stroke-width="1"/>
<circle cx="449.10" cy="138.30" r="2" fill="#f2cb84" stroke="#5a4a2c" stroke-width="1"/>
<circle cx="449.50" cy="152.60" r="2" fill="#f2cb84" stroke="#5a4a2c" stroke-width="1"/>
<circle cx="453.50" cy="157.10" r="2" fill="#f2cb84" stroke="#5a4a2c" stroke-width="1"/>
<circle cx="450.90" cy="162.80" r="2" fill="#f2cb84" stroke="#5a4a2c" stroke-width="1"/>
<circle cx="448.10" cy="166.00" r="2" fill="#f2cb84" stroke="#5a4a2c" stroke-width="1"/>
<circle cx="452.90" cy="174.70" r="2" fill="#f2cb84" stroke="#5a4a2c" stroke-width="1"/>
<circle cx="454.50" cy="177.30" r="2" fill="#f2cb84" stroke="#5a4a2c" stroke-width="1"/>
<circle cx="451.10" cy="187.10" r="2" fill="#f2cb84" stroke="#5a4a2c" stroke-width="1"/>
<circle cx="451.10" cy="189.10" r="2" fill="#f2cb84" stroke="#5a4a2c" stroke-width="1"/>
<circle cx="454.50" cy="197.40" r="2" fill="#f2cb84" stroke="#5a4a2c" stroke-width="1"/>
<circle cx="448.10" cy="215.20" r="2" fill="#f2cb84" stroke="#5a4a2c" stroke-width="1"/>
<circle cx="455.10" cy="218.70" r="2" fill="#f2cb84" stroke="#5a4a2c" stroke-width="1"/>
<circle cx="448.10" cy="258.60" r="2" fill="#f2cb84" stroke="#5a4a2c" stroke-width="1"/>
<circle cx="451.90" cy="282.00" r="2" fill="#f2cb84" stroke="#5a4a2c" stroke-width="1"/>
<circle cx="479.80" cy="209.40" r="2" fill="#8cd5f2" stroke="#2e4754" stroke-width="1"/>
<circle cx="480.60" cy="219.70" r="2" fill="#8cd5f2" stroke="#2e4754" stroke-width="1"/>
<circle cx="478.60" cy="223.10" r="2" fill="#8cd5f2" stroke="#2e4754" stroke-width="1"/>
<circle cx="479.80" cy="225.60" r="2" fill="#8cd5f2" stroke="#2e4754" stroke-width="1"/>
<circle cx="476.60" cy="229.60" r="2" fill="#8cd5f2" stroke="#2e4754" stroke-width="1"/>
<circle cx="479.20" cy="232.60" r="2" fill="#8cd5f2" stroke="#2e4754" stroke-width="1"/>
<circle cx="476.20" cy="238.50" r="2" fill="#8cd5f2" stroke="#2e4754" stroke-width="1"/>
<circle cx="475.60" cy="247.00" r="2" fill="#8cd5f2" stroke="#2e4754" stroke-width="1"/>
<circle cx="476.80" cy="250.90" r="2" fill="#8cd5f2" stroke="#2e4754" stroke-width="1"/>
<circle cx="479.80" cy="255.30" r="2" fill="#8cd5f2" stroke="#2e4754" stroke-width="1"/>
<circle cx="479.20" cy="271.70" r="2" fill="#8cd5f2" stroke="#2e4754" stroke-width="1"/>
<circle cx="475.60" cy="285.90" r="2" fill="#8cd5f2" stroke="#2e4754" stroke-width="1"/>
<circle cx="502.50" cy="195.60" r="2" fill="#74cdb3" stroke="#284c40" stroke-width="1"/>
<circle cx="500.90" cy="208.40" r="2" fill="#74cdb3" stroke="#284c40" stroke-width="1"/>
<circle cx="504.90" cy="213.20" r="2" fill="#74cdb3" stroke="#284c40" stroke-width="1"/>
<circle cx="507.40" cy="210.80" r="2" fill="#74cdb3" stroke="#284c40" stroke-width="1"/>
<circle cx="502.90" cy="218.70" r="2" fill="#74cdb3" stroke="#284c40" stroke-width="1"/>
<circle cx="507.20" cy="221.30" r="2" fill="#74cdb3" stroke="#284c40" stroke-width="1"/>
<circle cx="502.50" cy="232.00" r="2" fill="#74cdb3" stroke="#284c40" stroke-width="1"/>
<circle cx="501.90" cy="242.80" r="2" fill="#74cdb3" stroke="#284c40" stroke-width="1"/>
<circle cx="504.90" cy="242.40" r="2" fill="#74cdb3" stroke="#284c40" stroke-width="1"/>
<circle cx="506.50" cy="248.80" r="2" fill="#74cdb3" stroke="#284c40" stroke-width="1"/>
<circle cx="506.30" cy="252.90" r="2" fill="#74cdb3" stroke="#284c40" stroke-width="1"/>
<circle cx="501.50" cy="281.40" r="2" fill="#74cdb3" stroke="#284c40" stroke-width="1"/>
<circle cx="503.50" cy="280.40" r="2" fill="#74cdb3" stroke="#284c40" stroke-width="1"/>
<circle cx="506.30" cy="280.40" r="2" fill="#74cdb3" stroke="#284c40" stroke-width="1"/>
<circle cx="532.10" cy="183.20" r="2" fill="#e2b4cf" stroke="#4f3a47" stroke-width="1"/>
<circle cx="530.20" cy="197.40" r="2" fill="#e2b4cf" stroke="#4f3a47" stroke-width="1"/>
<circle cx="531.60" cy="214.20" r="2" fill="#e2b4cf" stroke="#4f3a47" stroke-width="1"/>
<circle cx="530.60" cy="218.30" r="2" fill="#e2b4cf" stroke="#4f3a47" stroke-width="1"/>
<circle cx="533.10" cy="227.00" r="2" fill="#e2b4cf" stroke="#4f3a47" stroke-width="1"/>
<circle cx="530.20" cy="233.10" r="2" fill="#e2b4cf" stroke="#4f3a47" stroke-width="1"/>
<circle cx="530.20" cy="237.50" r="2" fill="#e2b4cf" stroke="#4f3a47" stroke-width="1"/>
<circle cx="528.20" cy="250.00" r="2" fill="#e2b4cf" stroke="#4f3a47" stroke-width="1"/>
<circle cx="531.60" cy="260.80" r="2" fill="#e2b4cf" stroke="#4f3a47" stroke-width="1"/>
<circle cx="528.20" cy="271.10" r="2" fill="#e2b4cf" stroke="#4f3a47" stroke-width="1"/>
<circle cx="571.20" cy="227.30" r="2" fill="#d0d6d5" stroke="#262626" stroke-width="1"/>
<circle cx="567.40" cy="237.40" r="2" fill="#d0d6d5" stroke="#262626" stroke-width="1"/>
<circle cx="567.80" cy="245.70" r="2" fill="#d0d6d5" stroke="#262626" stroke-width="1"/>
<circle cx="570.20" cy="247.10" r="2" fill="#d0d6d5" stroke="#262626" stroke-width="1"/>
<circle cx="565.40" cy="252.60" r="2" fill="#d0d6d5" stroke="#262626" stroke-width="1"/>
<circle cx="568.80" cy="256.20" r="2" fill="#d0d6d5" stroke="#262626" stroke-width="1"/>
<circle cx="570.20" cy="258.50" r="2" fill="#d0d6d5" stroke="#262626" stroke-width="1"/>
<circle cx="569.40" cy="261.50" r="2" fill="#d0d6d5" stroke="#262626" stroke-width="1"/>
<circle cx="570.20" cy="263.90" r="2" fill="#d0d6d5" stroke="#262626" stroke-width="1"/>
<circle cx="564.80" cy="267.80" r="2" fill="#d0d6d5" stroke="#262626" stroke-width="1"/>
<circle cx="567.40" cy="268.40" r="2" fill="#d0d6d5" stroke="#262626" stroke-width="1"/>
<circle cx="569.40" cy="269.40" r="2" fill="#d0d6d5" stroke="#262626" stroke-width="1"/>
<circle cx="566.80" cy="273.80" r="2" fill="#d0d6d5" stroke="#262626" stroke-width="1"/>
<circle cx="567.80" cy="283.80" r="2" fill="#d0d6d5" stroke="#262626" stroke-width="1"/>
<circle cx="570.20" cy="286.20" r="2" fill="#d0d6d5" stroke="#262626" stroke-width="1"/>
<circle cx="565.80" cy="289.20" r="2" fill="#d0d6d5" stroke="#262626" stroke-width="1"/>
<circle cx="565.80" cy="298.50" r="2" fill="#d0d6d5" stroke="#262626" stroke-width="1"/>
<circle cx="564.30" cy="307.00" r="2" fill="#d0d6d5" stroke="#262626" stroke-width="1"/>
<circle cx="592.50" cy="231.30" r="2" fill="#f2cb84" stroke="#5a4a2c" stroke-width="1"/>
<circle cx="591.50" cy="237.80" r="2" fill="#f2cb84" stroke="#5a4a2c" stroke-width="1"/>
<circle cx="592.50" cy="243.30" r="2" fill="#f2cb84" stroke="#5a4a2c" stroke-width="1"/>
<circle cx="597.50" cy="247.70" r="2" fill="#f2cb84" stroke="#5a4a2c" stroke-width="1"/>
<circle cx="592.10" cy="245.70" r="2" fill="#f2cb84" stroke="#5a4a2c" stroke-width="1"/>
<circle cx="595.50" cy="253.20" r="2" fill="#f2cb84" stroke="#5a4a2c" stroke-width="1"/>
<circle cx="592.10" cy="259.50" r="2" fill="#f2cb84" stroke="#5a4a2c" stroke-width="1"/>
<circle cx="594.50" cy="262.10" r="2" fill="#f2cb84" stroke="#5a4a2c" stroke-width="1"/>
<circle cx="593.50" cy="267.00" r="2" fill="#f2cb84" stroke="#5a4a2c" stroke-width="1"/>
<circle cx="593.90" cy="271.80" r="2" fill="#f2cb84" stroke="#5a4a2c" stroke-width="1"/>
<circle cx="595.50" cy="272.40" r="2" fill="#f2cb84" stroke="#5a4a2c" stroke-width="1"/>
<circle cx="593.10" cy="280.30" r="2" fill="#f2cb84" stroke="#5a4a2c" stroke-width="1"/>
<circle cx="595.90" cy="284.80" r="2" fill="#f2cb84" stroke="#5a4a2c" stroke-width="1"/>
<circle cx="591.50" cy="287.20" r="2" fill="#f2cb84" stroke="#5a4a2c" stroke-width="1"/>
<circle cx="597.10" cy="294.70" r="2" fill="#f2cb84" stroke="#5a4a2c" stroke-width="1"/>
<circle cx="619.20" cy="233.80" r="2" fill="#8cd5f2" stroke="#2e4754" stroke-width="1"/>
<circle cx="620.20" cy="251.20" r="2" fill="#8cd5f2" stroke="#2e4754" stroke-width="1"/>
<circle cx="621.20" cy="279.70" r="2" fill="#8cd5f2" stroke="#2e4754" stroke-width="1"/>
<circle cx="620.80" cy="283.30" r="2" fill="#8cd5f2" stroke="#2e4754" stroke-width="1"/>
<circle cx="620.20" cy="286.20" r="2" fill="#8cd5f2" stroke="#2e4754" stroke-width="1"/>
<circle cx="622.80" cy="293.50" r="2" fill="#8cd5f2" stroke="#2e4754" stroke-width="1"/>
<circle cx="619.20" cy="295.10" r="2" fill="#8cd5f2" stroke="#2e4754" stroke-width="1"/>
<circle cx="618.40" cy="312.30" r="2" fill="#8cd5f2" stroke="#2e4754" stroke-width="1"/>
<circle cx="642.90" cy="244.30" r="2" fill="#74cdb3" stroke="#284c40" stroke-width="1"/>
<circle cx="644.50" cy="261.90" r="2" fill="#74cdb3" stroke="#284c40" stroke-width="1"/>
<circle cx="648.50" cy="261.90" r="2" fill="#74cdb3" stroke="#284c40" stroke-width="1"/>
<circle cx="645.90" cy="264.50" r="2" fill="#74cdb3" stroke="#284c40" stroke-width="1"/>
<circle cx="647.90" cy="267.40" r="2" fill="#74cdb3" stroke="#284c40" stroke-width="1"/>
<circle cx="646.90" cy="271.00" r="2" fill="#74cdb3" stroke="#284c40" stroke-width="1"/>
<circle cx="647.90" cy="274.40" r="2" fill="#74cdb3" stroke="#284c40" stroke-width="1"/>
<circle cx="648.30" cy="278.30" r="2" fill="#74cdb3" stroke="#284c40" stroke-width="1"/>
<circle cx="644.90" cy="282.90" r="2" fill="#74cdb3" stroke="#284c40" stroke-width="1"/>
<circle cx="646.90" cy="284.20" r="2" fill="#74cdb3" stroke="#284c40" stroke-width="1"/>
<circle cx="643.90" cy="287.20" r="2" fill="#74cdb3" stroke="#284c40" stroke-width="1"/>
<circle cx="649.50" cy="290.20" r="2" fill="#74cdb3" stroke="#284c40" stroke-width="1"/>
<circle cx="644.50" cy="302.00" r="2" fill="#74cdb3" stroke="#284c40" stroke-width="1"/>
<circle cx="646.50" cy="306.00" r="2" fill="#74cdb3" stroke="#284c40" stroke-width="1"/>
<circle cx="648.90" cy="306.00" r="2" fill="#74cdb3" stroke="#284c40" stroke-width="1"/>
<circle cx="670.60" cy="233.40" r="2" fill="#e2b4cf" stroke="#4f3a47" stroke-width="1"/>
<circle cx="670.20" cy="248.70" r="2" fill="#e2b4cf" stroke="#4f3a47" stroke-width="1"/>
<circle cx="670.20" cy="261.10" r="2" fill="#e2b4cf" stroke="#4f3a47" stroke-width="1"/>
<circle cx="672.00" cy="261.10" r="2" fill="#e2b4cf" stroke="#4f3a47" stroke-width="1"/>
<circle cx="670.60" cy="268.40" r="2" fill="#e2b4cf" stroke="#4f3a47" stroke-width="1"/>
<circle cx="675.50" cy="274.40" r="2" fill="#e2b4cf" stroke="#4f3a47" stroke-width="1"/>
<circle cx="674.20" cy="284.80" r="2" fill="#e2b4cf" stroke="#4f3a47" stroke-width="1"/>
<circle cx="675.00" cy="287.20" r="2" fill="#e2b4cf" stroke="#4f3a47" stroke-width="1"/>
<circle cx="671.60" cy="290.60" r="2" fill="#e2b4cf" stroke="#4f3a47" stroke-width="1"/>
<circle cx="675.50" cy="303.00" r="2" fill="#e2b4cf" stroke="#4f3a47" stroke-width="1"/>
<circle cx="675.00" cy="311.90" r="2" fill="#e2b4cf" stroke="#4f3a47" stroke-width="1"/>
<text x="1.75" y="428.70" font-size="10" text-anchor="start" fill="#222222" textLength="8.33" lengthAdjust="spacingAndGlyphs">c)</text>
<line x1="44.50" y1="421.50" x2="44.50" y2="746.50" stroke="#4d4d4d" stroke-width="1"/>
<line x1="44.50" y1="746.50" x2="180.75" y2="746.50" stroke="#4d4d4d" stroke-width="1"/>
<line x1="187.50" y1="746.50" x2="323.25" y2="746.50" stroke="#4d4d4d" stroke-width="1"/>
<line x1="40.40" y1="733.00" x2="44.50" y2="733.00" stroke="#4d4d4d" stroke-width="1"/>
<text x="39.30" y="737.10" font-size="10" text-anchor="end" fill="#222222" textLength="13.07" lengthAdjust="spacingAndGlyphs">0.7</text>
<line x1="40.40" y1="682.50" x2="44.50" y2="682.50" stroke="#4d4d4d" stroke-width="1"/>
<text x="39.30" y="686.60" font-size="10" text-anchor="end" fill="#222222" textLength="13.07" lengthAdjust="spacingAndGlyphs">0.8</text>
<line x1="40.40" y1="632.50" x2="44.50" y2="632.50" stroke="#4d4d4d" stroke-width="1"/>
<text x="39.30" y="636.60" font-size="10" text-anchor="end" fill="#222222" textLength="13.07" lengthAdjust="spacingAndGlyphs">0.9</text>
<line x1="40.40" y1="583.25" x2="44.50" y2="583.25" stroke="#4d4d4d" stroke-width="1"/>
<text x="39.30" y="587.35" font-size="10" text-anchor="end" fill="#222222" textLength="13.07" lengthAdjust="spacingAndGlyphs">1.0</text>
<line x1="40.40" y1="534.50" x2="44.50" y2="534.50" stroke="#4d4d4d" stroke-width="1"/>
<text x="39.30" y="538.60" font-size="10" text-anchor="end" fill="#222222" textLength="13.07" lengthAdjust="spacingAndGlyphs">1.1</text>
<line x1="40.40" y1="484.50" x2="44.50" y2="484.50" stroke="#4d4d4d" stroke-width="1"/>
<text x="39.30" y="488.60" font-size="10" text-anchor="end" fill="#222222" textLength="13.07" lengthAdjust="spacingAndGlyphs">1.2</text>
<line x1="40.40" y1="435.75" x2="44.50" y2="435.75" stroke="#4d4d4d" stroke-width="1"/>
<text x="39.30" y="439.85" font-size="10" text-anchor="end" fill="#222222" textLength="13.07" lengthAdjust="spacingAndGlyphs">1.3</text>
<text x="9.90" y="583.30" font-size="10" text-anchor="middle" fill="#222222" textLength="86.5" lengthAdjust="spacingAndGlyphs" transform="rotate(-90 9.90 583.30)">Camargo evenness</text>
<line x1="60.40" y1="746.50" x2="60.40" y2="751.00" stroke="#4d4d4d" stroke-width="1"/>
<text x="64.00" y="754.10" font-size="9.7" text-anchor="end" fill="#222222" textLength="32.5" lengthAdjust="spacingAndGlyphs" transform="rotate(-90 64.00 754.10)">PreAZT</text>
<line x1="86.70" y1="746.50" x2="86.70" y2="751.00" stroke="#4d4d4d" stroke-width="1"/>
<text x="90.30" y="754.10" font-size="9.7" text-anchor="end" fill="#222222" textLength="39" lengthAdjust="spacingAndGlyphs" transform="rotate(-90 90.30 754.10)">StartAZT</text>
<line x1="113.00" y1="746.50" x2="113.00" y2="751.00" stroke="#4d4d4d" stroke-width="1"/>
<text x="116.60" y="754.10" font-size="9.7" text-anchor="end" fill="#222222" textLength="35" lengthAdjust="spacingAndGlyphs" transform="rotate(-90 116.60 754.10)">EndAZT</text>
<line x1="139.30" y1="746.50" x2="139.30" y2="751.00" stroke="#4d4d4d" stroke-width="1"/>
<text x="142.90" y="754.10" font-size="9.7" text-anchor="end" fill="#222222" textLength="63" lengthAdjust="spacingAndGlyphs" transform="rotate(-90 142.90 754.10)">PostAZT_1mo</text>
<line x1="165.60" y1="746.50" x2="165.60" y2="751.00" stroke="#4d4d4d" stroke-width="1"/>
<text x="169.20" y="754.10" font-size="9.7" text-anchor="end" fill="#222222" textLength="69.3" lengthAdjust="spacingAndGlyphs" transform="rotate(-90 169.20 754.10)">PostAZT&gt;=3mo</text>
<text x="113.00" y="428.50" font-size="10" text-anchor="middle" fill="#222222" textLength="15.5" lengthAdjust="spacingAndGlyphs">LRT</text>
<text x="113.00" y="442.00" font-size="10" text-anchor="middle" fill="#222222" textLength="35.33" lengthAdjust="spacingAndGlyphs">p=0.095</text>
<line x1="202.90" y1="746.50" x2="202.90" y2="751.00" stroke="#4d4d4d" stroke-width="1"/>
<text x="206.50" y="754.10" font-size="9.7" text-anchor="end" fill="#222222" textLength="32.5" lengthAdjust="spacingAndGlyphs" transform="rotate(-90 206.50 754.10)">PreAZT</text>
<line x1="229.20" y1="746.50" x2="229.20" y2="751.00" stroke="#4d4d4d" stroke-width="1"/>
<text x="232.80" y="754.10" font-size="9.7" text-anchor="end" fill="#222222" textLength="39" lengthAdjust="spacingAndGlyphs" transform="rotate(-90 232.80 754.10)">StartAZT</text>
<line x1="255.50" y1="746.50" x2="255.50" y2="751.00" stroke="#4d4d4d" stroke-width="1"/>
<text x="259.10" y="754.10" font-size="9.7" text-anchor="end" fill="#222222" textLength="35" lengthAdjust="spacingAndGlyphs" transform="rotate(-90 259.10 754.10)">EndAZT</text>
<line x1="281.80" y1="746.50" x2="281.80" y2="751.00" stroke="#4d4d4d" stroke-width="1"/>
<text x="285.40" y="754.10" font-size="9.7" text-anchor="end" fill="#222222" textLength="63" lengthAdjust="spacingAndGlyphs" transform="rotate(-90 285.40 754.10)">PostAZT_1mo</text>
<line x1="308.10" y1="746.50" x2="308.10" y2="751.00" stroke="#4d4d4d" stroke-width="1"/>
<text x="311.70" y="754.10" font-size="9.7" text-anchor="end" fill="#222222" textLength="69.3" lengthAdjust="spacingAndGlyphs" transform="rotate(-90 311.70 754.10)">PostAZT&gt;=3mo</text>
<text x="255.50" y="428.50" font-size="10" text-anchor="middle" fill="#222222" textLength="18.5" lengthAdjust="spacingAndGlyphs">URT</text>
<text x="255.50" y="442.00" font-size="10" text-anchor="middle" fill="#222222" textLength="35.33" lengthAdjust="spacingAndGlyphs">p&lt;0.001</text>
<line x1="202.60" y1="525.50" x2="229.50" y2="525.50" stroke="#4d4d4d" stroke-width="1"/>
<line x1="202.60" y1="525.00" x2="202.60" y2="530.20" stroke="#4d4d4d" stroke-width="1"/>
<line x1="229.50" y1="525.00" x2="229.50" y2="530.20" stroke="#4d4d4d" stroke-width="1"/>
<text x="216.05" y="521.70" font-size="10" text-anchor="middle" fill="#222222" textLength="18.3" lengthAdjust="spacingAndGlyphs">0.93</text>
<line x1="229.50" y1="509.50" x2="256.00" y2="509.50" stroke="#4d4d4d" stroke-width="1"/>
<line x1="229.50" y1="509.00" x2="229.50" y2="514.20" stroke="#4d4d4d" stroke-width="1"/>
<line x1="256.00" y1="509.00" x2="256.00" y2="514.20" stroke="#4d4d4d" stroke-width="1"/>
<text x="242.75" y="505.70" font-size="10" text-anchor="middle" fill="#222222" textLength="23.52" lengthAdjust="spacingAndGlyphs">0.012</text>
<line x1="229.50" y1="488.50" x2="281.60" y2="488.50" stroke="#4d4d4d" stroke-width="1"/>
<line x1="229.50" y1="488.00" x2="229.50" y2="493.20" stroke="#4d4d4d" stroke-width="1"/>
<line x1="281.60" y1="488.00" x2="281.60" y2="493.20" stroke="#4d4d4d" stroke-width="1"/>
<text x="255.55" y="484.70" font-size="10" text-anchor="middle" fill="#222222" textLength="28.75" lengthAdjust="spacingAndGlyphs">0.0014</text>
<line x1="229.50" y1="469.50" x2="308.20" y2="469.50" stroke="#4d4d4d" stroke-width="1"/>
<line x1="229.50" y1="469.00" x2="229.50" y2="474.20" stroke="#4d4d4d" stroke-width="1"/>
<line x1="308.20" y1="469.00" x2="308.20" y2="474.20" stroke="#4d4d4d" stroke-width="1"/>
<text x="268.85" y="465.70" font-size="10" text-anchor="middle" fill="#222222" textLength="18.3" lengthAdjust="spacingAndGlyphs">0.42</text>
<line x1="60.40" y1="593.75" x2="60.40" y2="607.50" stroke="#4d4d4d" stroke-width="1"/>
<line x1="60.40" y1="629.50" x2="60.40" y2="640.00" stroke="#4d4d4d" stroke-width="1"/>
<rect x="51.15" y="607.50" width="18.50" height="22.00" fill="#c7cecd" stroke="#4d4d4d" stroke-width="0.9"/>
<line x1="51.15" y1="621.25" x2="69.65" y2="621.25" stroke="#4d4d4d" stroke-width="1"/>
<line x1="86.70" y1="587.50" x2="86.70" y2="610.50" stroke="#4d4d4d" stroke-width="1"/>
<line x1="86.70" y1="642.00" x2="86.70" y2="651.75" stroke="#4d4d4d" stroke-width="1"/>
<rect x="77.45" y="610.50" width="18.50" height="31.50" fill="#f3d192" stroke="#4d4d4d" stroke-width="0.9"/>
<line x1="77.45" y1="625.25" x2="95.95" y2="625.25" stroke="#4d4d4d" stroke-width="1"/>
<line x1="113.00" y1="583.75" x2="113.00" y2="591.25" stroke="#4d4d4d" stroke-width="1"/>
<line x1="113.00" y1="649.75" x2="113.00" y2="700.00" stroke="#4d4d4d" stroke-width="1"/>
<rect x="103.75" y="591.25" width="18.50" height="58.50" fill="#9adaf4" stroke="#4d4d4d" stroke-width="0.9"/>
<line x1="103.75" y1="612.25" x2="122.25" y2="612.25" stroke="#4d4d4d" stroke-width="1"/>
<line x1="139.30" y1="583.75" x2="139.30" y2="587.00" stroke="#4d4d4d" stroke-width="1"/>
<line x1="139.30" y1="610.50" x2="139.30" y2="618.75" stroke="#4d4d4d" stroke-width="1"/>
<rect x="130.05" y="587.00" width="18.50" height="23.50" fill="#83d3bc" stroke="#4d4d4d" stroke-width="0.9"/>
<line x1="130.05" y1="594.25" x2="148.55" y2="594.25" stroke="#4d4d4d" stroke-width="1"/>
<line x1="165.60" y1="588.75" x2="165.60" y2="599.25" stroke="#4d4d4d" stroke-width="1"/>
<line x1="165.60" y1="674.25" x2="165.60" y2="704.25" stroke="#4d4d4d" stroke-width="1"/>
<rect x="156.35" y="599.25" width="18.50" height="75.00" fill="#e5bcd5" stroke="#4d4d4d" stroke-width="0.9"/>
<line x1="156.35" y1="608.00" x2="174.85" y2="608.00" stroke="#4d4d4d" stroke-width="1"/>
<line x1="202.90" y1="585.50" x2="202.90" y2="597.50" stroke="#4d4d4d" stroke-width="1"/>
<line x1="202.90" y1="633.25" x2="202.90" y2="653.00" stroke="#4d4d4d" stroke-width="1"/>
<rect x="193.65" y="597.50" width="18.50" height="35.75" fill="#c7cecd" stroke="#4d4d4d" stroke-width="0.9"/>
<line x1="193.65" y1="613.25" x2="212.15" y2="613.25" stroke="#4d4d4d" stroke-width="1"/>
<line x1="229.20" y1="583.75" x2="229.20" y2="593.25" stroke="#4d4d4d" stroke-width="1"/>
<line x1="229.20" y1="624.50" x2="229.20" y2="628.75" stroke="#4d4d4d" stroke-width="1"/>
<rect x="219.95" y="593.25" width="18.50" height="31.25" fill="#f3d192" stroke="#4d4d4d" stroke-width="0.9"/>
<line x1="219.95" y1="611.25" x2="238.45" y2="611.25" stroke="#4d4d4d" stroke-width="1"/>
<line x1="255.50" y1="582.50" x2="255.50" y2="585.00" stroke="#4d4d4d" stroke-width="1"/>
<line x1="255.50" y1="598.25" x2="255.50" y2="603.00" stroke="#4d4d4d" stroke-width="1"/>
<rect x="246.25" y="585.00" width="18.50" height="13.25" fill="#9adaf4" stroke="#4d4d4d" stroke-width="0.9"/>
<line x1="246.25" y1="586.75" x2="264.75" y2="586.75" stroke="#4d4d4d" stroke-width="1"/>
<line x1="281.80" y1="583.25" x2="281.80" y2="583.25" stroke="#4d4d4d" stroke-width="1"/>
<line x1="281.80" y1="596.50" x2="281.80" y2="604.50" stroke="#4d4d4d" stroke-width="1"/>
<rect x="272.55" y="583.25" width="18.50" height="13.25" fill="#83d3bc" stroke="#4d4d4d" stroke-width="0.9"/>
<line x1="272.55" y1="585.00" x2="291.05" y2="585.00" stroke="#4d4d4d" stroke-width="1"/>
<line x1="308.10" y1="584.50" x2="308.10" y2="594.25" stroke="#4d4d4d" stroke-width="1"/>
<line x1="308.10" y1="615.25" x2="308.10" y2="625.00" stroke="#4d4d4d" stroke-width="1"/>
<rect x="298.85" y="594.25" width="18.50" height="21.00" fill="#e5bcd5" stroke="#4d4d4d" stroke-width="0.9"/>
<line x1="298.85" y1="597.00" x2="317.35" y2="597.00" stroke="#4d4d4d" stroke-width="1"/>
<circle cx="60.80" cy="593.40" r="2" fill="#d0d6d5" stroke="#262626" stroke-width="1"/>
<circle cx="57.40" cy="600.70" r="2" fill="#d0d6d5" stroke="#262626" stroke-width="1"/>
<circle cx="62.20" cy="600.70" r="2" fill="#d0d6d5" stroke="#262626" stroke-width="1"/>
<circle cx="60.80" cy="605.70" r="2" fill="#d0d6d5" stroke="#262626" stroke-width="1"/>
<circle cx="62.20" cy="613.60" r="2" fill="#d0d6d5" stroke="#262626" stroke-width="1"/>
<circle cx="61.80" cy="618.90" r="2" fill="#d0d6d5" stroke="#262626" stroke-width="1"/>
<circle cx="62.20" cy="621.90" r="2" fill="#d0d6d5" stroke="#262626" stroke-width="1"/>
<circle cx="61.40" cy="625.40" r="2" fill="#d0d6d5" stroke="#262626" stroke-width="1"/>
<circle cx="62.20" cy="627.00" r="2" fill="#d0d6d5" stroke="#262626" stroke-width="1"/>
<circle cx="61.40" cy="631.00" r="2" fill="#d0d6d5" stroke="#262626" stroke-width="1"/>
<circle cx="62.20" cy="634.30" r="2" fill="#d0d6d5" stroke="#262626" stroke-width="1"/>
<circle cx="60.20" cy="640.30" r="2" fill="#d0d6d5" stroke="#262626" stroke-width="1"/>
<circle cx="60.75" cy="714.25" r="2" fill="#d0d6d5" stroke="#262626" stroke-width="1"/>
<circle cx="87.50" cy="587.30" r="2" fill="#f2cb84" stroke="#5a4a2c" stroke-width="1"/>
<circle cx="88.50" cy="601.30" r="2" fill="#f2cb84" stroke="#5a4a2c" stroke-width="1"/>
<circle cx="88.50" cy="607.30" r="2" fill="#f2cb84" stroke="#5a4a2c" stroke-width="1"/>
<circle cx="87.10" cy="609.60" r="2" fill="#f2cb84" stroke="#5a4a2c" stroke-width="1"/>
<circle cx="89.10" cy="614.00" r="2" fill="#f2cb84" stroke="#5a4a2c" stroke-width="1"/>
<circle cx="83.50" cy="621.50" r="2" fill="#f2cb84" stroke="#5a4a2c" stroke-width="1"/>
<circle cx="88.50" cy="620.50" r="2" fill="#f2cb84" stroke="#5a4a2c" stroke-width="1"/>
<circle cx="87.10" cy="628.40" r="2" fill="#f2cb84" stroke="#5a4a2c" stroke-width="1"/>
<circle cx="87.10" cy="633.30" r="2" fill="#f2cb84" stroke="#5a4a2c" stroke-width="1"/>
<circle cx="87.10" cy="635.30" r="2" fill="#f2cb84" stroke="#5a4a2c" stroke-width="1"/>
<circle cx="85.50" cy="643.80" r="2" fill="#f2cb84" stroke="#5a4a2c" stroke-width="1"/>
<circle cx="84.50" cy="646.80" r="2" fill="#f2cb84" stroke="#5a4a2c" stroke-width="1"/>
<circle cx="87.50" cy="652.10" r="2" fill="#f2cb84" stroke="#5a4a2c" stroke-width="1"/>
<circle cx="85.50" cy="696.75" r="2" fill="#f2cb84" stroke="#5a4a2c" stroke-width="1"/>
<circle cx="116.10" cy="582.90" r="2" fill="#8cd5f2" stroke="#2e4754" stroke-width="1"/>
<circle cx="117.10" cy="584.90" r="2" fill="#8cd5f2" stroke="#2e4754" stroke-width="1"/>
<circle cx="111.20" cy="588.90" r="2" fill="#8cd5f2" stroke="#2e4754" stroke-width="1"/>
<circle cx="111.60" cy="593.80" r="2" fill="#8cd5f2" stroke="#2e4754" stroke-width="1"/>
<circle cx="114.20" cy="603.70" r="2" fill="#8cd5f2" stroke="#2e4754" stroke-width="1"/>
<circle cx="114.80" cy="608.60" r="2" fill="#8cd5f2" stroke="#2e4754" stroke-width="1"/>
<circle cx="116.10" cy="615.60" r="2" fill="#8cd5f2" stroke="#2e4754" stroke-width="1"/>
<circle cx="114.80" cy="628.40" r="2" fill="#8cd5f2" stroke="#2e4754" stroke-width="1"/>
<circle cx="117.10" cy="645.80" r="2" fill="#8cd5f2" stroke="#2e4754" stroke-width="1"/>
<circle cx="112.00" cy="665.00" r="2" fill="#8cd5f2" stroke="#2e4754" stroke-width="1"/>
<circle cx="113.00" cy="667.00" r="2" fill="#8cd5f2" stroke="#2e4754" stroke-width="1"/>
<circle cx="112.00" cy="700.00" r="2" fill="#8cd5f2" stroke="#2e4754" stroke-width="1"/>
<circle cx="137.50" cy="584.90" r="2" fill="#74cdb3" stroke="#284c40" stroke-width="1"/>
<circle cx="140.50" cy="584.30" r="2" fill="#74cdb3" stroke="#284c40" stroke-width="1"/>
<circle cx="142.80" cy="584.90" r="2" fill="#74cdb3" stroke="#284c40" stroke-width="1"/>
<circle cx="139.90" cy="586.90" r="2" fill="#74cdb3" stroke="#284c40" stroke-width="1"/>
<circle cx="141.50" cy="588.30" r="2" fill="#74cdb3" stroke="#284c40" stroke-width="1"/>
<circle cx="139.50" cy="593.40" r="2" fill="#74cdb3" stroke="#284c40" stroke-width="1"/>
<circle cx="141.80" cy="593.80" r="2" fill="#74cdb3" stroke="#284c40" stroke-width="1"/>
<circle cx="142.20" cy="595.80" r="2" fill="#74cdb3" stroke="#284c40" stroke-width="1"/>
<circle cx="140.30" cy="608.00" r="2" fill="#74cdb3" stroke="#284c40" stroke-width="1"/>
<circle cx="141.30" cy="609.20" r="2" fill="#74cdb3" stroke="#284c40" stroke-width="1"/>
<circle cx="139.50" cy="612.60" r="2" fill="#74cdb3" stroke="#284c40" stroke-width="1"/>
<circle cx="141.50" cy="618.50" r="2" fill="#74cdb3" stroke="#284c40" stroke-width="1"/>
<circle cx="142.40" cy="649.80" r="2" fill="#74cdb3" stroke="#284c40" stroke-width="1"/>
<circle cx="137.90" cy="658.10" r="2" fill="#74cdb3" stroke="#284c40" stroke-width="1"/>
<circle cx="162.20" cy="590.30" r="2" fill="#e2b4cf" stroke="#4f3a47" stroke-width="1"/>
<circle cx="167.00" cy="588.90" r="2" fill="#e2b4cf" stroke="#4f3a47" stroke-width="1"/>
<circle cx="164.60" cy="597.80" r="2" fill="#e2b4cf" stroke="#4f3a47" stroke-width="1"/>
<circle cx="167.50" cy="597.80" r="2" fill="#e2b4cf" stroke="#4f3a47" stroke-width="1"/>
<circle cx="164.20" cy="602.70" r="2" fill="#e2b4cf" stroke="#4f3a47" stroke-width="1"/>
<circle cx="168.50" cy="608.60" r="2" fill="#e2b4cf" stroke="#4f3a47" stroke-width="1"/>
<circle cx="162.60" cy="642.80" r="2" fill="#e2b4cf" stroke="#4f3a47" stroke-width="1"/>
<circle cx="162.50" cy="661.25" r="2" fill="#e2b4cf" stroke="#4f3a47" stroke-width="1"/>
<circle cx="169.00" cy="687.50" r="2" fill="#e2b4cf" stroke="#4f3a47" stroke-width="1"/>
<circle cx="162.50" cy="694.25" r="2" fill="#e2b4cf" stroke="#4f3a47" stroke-width="1"/>
<circle cx="164.25" cy="704.25" r="2" fill="#e2b4cf" stroke="#4f3a47" stroke-width="1"/>
<circle cx="202.80" cy="586.30" r="2" fill="#d0d6d5" stroke="#262626" stroke-width="1"/>
<circle cx="205.20" cy="585.50" r="2" fill="#d0d6d5" stroke="#262626" stroke-width="1"/>
<circle cx="199.80" cy="596.40" r="2" fill="#d0d6d5" stroke="#262626" stroke-width="1"/>
<circle cx="204.40" cy="597.80" r="2" fill="#d0d6d5" stroke="#262626" stroke-width="1"/>
<circle cx="206.20" cy="598.80" r="2" fill="#d0d6d5" stroke="#262626" stroke-width="1"/>
<circle cx="206.20" cy="601.70" r="2" fill="#d0d6d5" stroke="#262626" stroke-width="1"/>
<circle cx="202.80" cy="607.70" r="2" fill="#d0d6d5" stroke="#262626" stroke-width="1"/>
<circle cx="201.80" cy="610.00" r="2" fill="#d0d6d5" stroke="#262626" stroke-width="1"/>
<circle cx="200.40" cy="613.20" r="2" fill="#d0d6d5" stroke="#262626" stroke-width="1"/>
<circle cx="201.80" cy="615.60" r="2" fill="#d0d6d5" stroke="#262626" stroke-width="1"/>
<circle cx="205.40" cy="615.20" r="2" fill="#d0d6d5" stroke="#262626" stroke-width="1"/>
<circle cx="204.40" cy="622.90" r="2" fill="#d0d6d5" stroke="#262626" stroke-width="1"/>
<circle cx="201.20" cy="628.80" r="2" fill="#d0d6d5" stroke="#262626" stroke-width="1"/>
<circle cx="202.80" cy="636.30" r="2" fill="#d0d6d5" stroke="#262626" stroke-width="1"/>
<circle cx="204.40" cy="642.80" r="2" fill="#d0d6d5" stroke="#262626" stroke-width="1"/>
<circle cx="205.40" cy="646.20" r="2" fill="#d0d6d5" stroke="#262626" stroke-width="1"/>
<circle cx="204.40" cy="647.20" r="2" fill="#d0d6d5" stroke="#262626" stroke-width="1"/>
<circle cx="200.40" cy="653.10" r="2" fill="#d0d6d5" stroke="#262626" stroke-width="1"/>
<circle cx="230.90" cy="583.90" r="2" fill="#f2cb84" stroke="#5a4a2c" stroke-width="1"/>
<circle cx="230.10" cy="589.50" r="2" fill="#f2cb84" stroke="#5a4a2c" stroke-width="1"/>
<circle cx="232.90" cy="589.90" r="2" fill="#f2cb84" stroke="#5a4a2c" stroke-width="1"/>
<circle cx="229.50" cy="594.20" r="2" fill="#f2cb84" stroke="#5a4a2c" stroke-width="1"/>
<circle cx="232.50" cy="599.70" r="2" fill="#f2cb84" stroke="#5a4a2c" stroke-width="1"/>
<circle cx="231.50" cy="603.30" r="2" fill="#f2cb84" stroke="#5a4a2c" stroke-width="1"/>
<circle cx="230.90" cy="608.60" r="2" fill="#f2cb84" stroke="#5a4a2c" stroke-width="1"/>
<circle cx="232.10" cy="610.60" r="2" fill="#f2cb84" stroke="#5a4a2c" stroke-width="1"/>
<circle cx="228.10" cy="614.60" r="2" fill="#f2cb84" stroke="#5a4a2c" stroke-width="1"/>
<circle cx="230.90" cy="615.60" r="2" fill="#f2cb84" stroke="#5a4a2c" stroke-width="1"/>
<circle cx="230.90" cy="619.90" r="2" fill="#f2cb84" stroke="#5a4a2c" stroke-width="1"/>
<circle cx="226.10" cy="623.90" r="2" fill="#f2cb84" stroke="#5a4a2c" stroke-width="1"/>
<circle cx="229.10" cy="629.00" r="2" fill="#f2cb84" stroke="#5a4a2c" stroke-width="1"/>
<circle cx="232.00" cy="682.00" r="2" fill="#f2cb84" stroke="#5a4a2c" stroke-width="1"/>
<circle cx="227.50" cy="694.25" r="2" fill="#f2cb84" stroke="#5a4a2c" stroke-width="1"/>
<circle cx="230.75" cy="703.25" r="2" fill="#f2cb84" stroke="#5a4a2c" stroke-width="1"/>
<circle cx="253.20" cy="582.30" r="2" fill="#8cd5f2" stroke="#2e4754" stroke-width="1"/>
<circle cx="257.20" cy="582.30" r="2" fill="#8cd5f2" stroke="#2e4754" stroke-width="1"/>
<circle cx="258.60" cy="584.90" r="2" fill="#8cd5f2" stroke="#2e4754" stroke-width="1"/>
<circle cx="255.20" cy="585.50" r="2" fill="#8cd5f2" stroke="#2e4754" stroke-width="1"/>
<circle cx="253.80" cy="593.40" r="2" fill="#8cd5f2" stroke="#2e4754" stroke-width="1"/>
<circle cx="253.20" cy="600.70" r="2" fill="#8cd5f2" stroke="#2e4754" stroke-width="1"/>
<circle cx="255.20" cy="602.70" r="2" fill="#8cd5f2" stroke="#2e4754" stroke-width="1"/>
<circle cx="258.25" cy="663.00" r="2" fill="#8cd5f2" stroke="#2e4754" stroke-width="1"/>
<circle cx="280.30" cy="582.30" r="2" fill="#74cdb3" stroke="#284c40" stroke-width="1"/>
<circle cx="282.30" cy="582.30" r="2" fill="#74cdb3" stroke="#284c40" stroke-width="1"/>
<circle cx="284.30" cy="582.90" r="2" fill="#74cdb3" stroke="#284c40" stroke-width="1"/>
<circle cx="283.50" cy="586.30" r="2" fill="#74cdb3" stroke="#284c40" stroke-width="1"/>
<circle cx="280.30" cy="595.40" r="2" fill="#74cdb3" stroke="#284c40" stroke-width="1"/>
<circle cx="282.50" cy="596.20" r="2" fill="#74cdb3" stroke="#284c40" stroke-width="1"/>
<circle cx="279.50" cy="600.10" r="2" fill="#74cdb3" stroke="#284c40" stroke-width="1"/>
<circle cx="280.90" cy="604.10" r="2" fill="#74cdb3" stroke="#284c40" stroke-width="1"/>
<circle cx="285.20" cy="622.50" r="2" fill="#74cdb3" stroke="#284c40" stroke-width="1"/>
<circle cx="285.20" cy="623.90" r="2" fill="#74cdb3" stroke="#284c40" stroke-width="1"/>
<circle cx="307.20" cy="584.50" r="2" fill="#e2b4cf" stroke="#4f3a47" stroke-width="1"/>
<circle cx="308.00" cy="590.80" r="2" fill="#e2b4cf" stroke="#4f3a47" stroke-width="1"/>
<circle cx="307.20" cy="591.80" r="2" fill="#e2b4cf" stroke="#4f3a47" stroke-width="1"/>
<circle cx="306.60" cy="596.80" r="2" fill="#e2b4cf" stroke="#4f3a47" stroke-width="1"/>
<circle cx="308.00" cy="597.80" r="2" fill="#e2b4cf" stroke="#4f3a47" stroke-width="1"/>
<circle cx="307.00" cy="608.60" r="2" fill="#e2b4cf" stroke="#4f3a47" stroke-width="1"/>
<circle cx="309.20" cy="613.60" r="2" fill="#e2b4cf" stroke="#4f3a47" stroke-width="1"/>
<circle cx="305.20" cy="617.10" r="2" fill="#e2b4cf" stroke="#4f3a47" stroke-width="1"/>
<circle cx="310.00" cy="624.50" r="2" fill="#e2b4cf" stroke="#4f3a47" stroke-width="1"/>
<circle cx="310.50" cy="625.00" r="2" fill="#e2b4cf" stroke="#4f3a47" stroke-width="1"/>
<text x="366.55" y="428.70" font-size="10" text-anchor="start" fill="#222222" textLength="8.89" lengthAdjust="spacingAndGlyphs">d)</text>
<line x1="409.30" y1="421.50" x2="409.30" y2="746.50" stroke="#4d4d4d" stroke-width="1"/>
<line x1="409.30" y1="746.50" x2="545.55" y2="746.50" stroke="#4d4d4d" stroke-width="1"/>
<line x1="552.30" y1="746.50" x2="688.00" y2="746.50" stroke="#4d4d4d" stroke-width="1"/>
<line x1="405.20" y1="746.25" x2="409.30" y2="746.25" stroke="#4d4d4d" stroke-width="1"/>
<text x="404.10" y="750.35" font-size="10" text-anchor="end" fill="#222222" textLength="5.23" lengthAdjust="spacingAndGlyphs">0</text>
<line x1="405.20" y1="654.25" x2="409.30" y2="654.25" stroke="#4d4d4d" stroke-width="1"/>
<text x="404.10" y="658.35" font-size="10" text-anchor="end" fill="#222222" textLength="5.23" lengthAdjust="spacingAndGlyphs">2</text>
<line x1="405.20" y1="560.75" x2="409.30" y2="560.75" stroke="#4d4d4d" stroke-width="1"/>
<text x="404.10" y="564.85" font-size="10" text-anchor="end" fill="#222222" textLength="5.23" lengthAdjust="spacingAndGlyphs">4</text>
<line x1="405.20" y1="466.50" x2="409.30" y2="466.50" stroke="#4d4d4d" stroke-width="1"/>
<text x="404.10" y="470.60" font-size="10" text-anchor="end" fill="#222222" textLength="5.23" lengthAdjust="spacingAndGlyphs">6</text>
<text x="373.80" y="583.30" font-size="10" text-anchor="middle" fill="#222222" textLength="82.4" lengthAdjust="spacingAndGlyphs" transform="rotate(-90 373.80 583.30)">Shannon diversity</text>
<line x1="425.20" y1="746.50" x2="425.20" y2="751.00" stroke="#4d4d4d" stroke-width="1"/>
<text x="428.80" y="754.10" font-size="9.7" text-anchor="end" fill="#222222" textLength="32.5" lengthAdjust="spacingAndGlyphs" transform="rotate(-90 428.80 754.10)">PreAZT</text>
<line x1="451.50" y1="746.50" x2="451.50" y2="751.00" stroke="#4d4d4d" stroke-width="1"/>
<text x="455.10" y="754.10" font-size="9.7" text-anchor="end" fill="#222222" textLength="39" lengthAdjust="spacingAndGlyphs" transform="rotate(-90 455.10 754.10)">StartAZT</text>
<line x1="477.80" y1="746.50" x2="477.80" y2="751.00" stroke="#4d4d4d" stroke-width="1"/>
<text x="481.40" y="754.10" font-size="9.7" text-anchor="end" fill="#222222" textLength="35" lengthAdjust="spacingAndGlyphs" transform="rotate(-90 481.40 754.10)">EndAZT</text>
<line x1="504.10" y1="746.50" x2="504.10" y2="751.00" stroke="#4d4d4d" stroke-width="1"/>
<text x="507.70" y="754.10" font-size="9.7" text-anchor="end" fill="#222222" textLength="63" lengthAdjust="spacingAndGlyphs" transform="rotate(-90 507.70 754.10)">PostAZT_1mo</text>
<line x1="530.40" y1="746.50" x2="530.40" y2="751.00" stroke="#4d4d4d" stroke-width="1"/>
<text x="534.00" y="754.10" font-size="9.7" text-anchor="end" fill="#222222" textLength="69.3" lengthAdjust="spacingAndGlyphs" transform="rotate(-90 534.00 754.10)">PostAZT&gt;=3mo</text>
<text x="477.80" y="428.50" font-size="10" text-anchor="middle" fill="#222222" textLength="15.5" lengthAdjust="spacingAndGlyphs">LRT</text>
<text x="477.80" y="442.00" font-size="10" text-anchor="middle" fill="#222222" textLength="40.73" lengthAdjust="spacingAndGlyphs">p=0.0052</text>
<line x1="567.70" y1="746.50" x2="567.70" y2="751.00" stroke="#4d4d4d" stroke-width="1"/>
<text x="571.30" y="754.10" font-size="9.7" text-anchor="end" fill="#222222" textLength="32.5" lengthAdjust="spacingAndGlyphs" transform="rotate(-90 571.30 754.10)">PreAZT</text>
<line x1="594.00" y1="746.50" x2="594.00" y2="751.00" stroke="#4d4d4d" stroke-width="1"/>
<text x="597.60" y="754.10" font-size="9.7" text-anchor="end" fill="#222222" textLength="39" lengthAdjust="spacingAndGlyphs" transform="rotate(-90 597.60 754.10)">StartAZT</text>
<line x1="620.30" y1="746.50" x2="620.30" y2="751.00" stroke="#4d4d4d" stroke-width="1"/>
<text x="623.90" y="754.10" font-size="9.7" text-anchor="end" fill="#222222" textLength="35" lengthAdjust="spacingAndGlyphs" transform="rotate(-90 623.90 754.10)">EndAZT</text>
<line x1="646.60" y1="746.50" x2="646.60" y2="751.00" stroke="#4d4d4d" stroke-width="1"/>
<text x="650.20" y="754.10" font-size="9.7" text-anchor="end" fill="#222222" textLength="63" lengthAdjust="spacingAndGlyphs" transform="rotate(-90 650.20 754.10)">PostAZT_1mo</text>
<line x1="672.90" y1="746.50" x2="672.90" y2="751.00" stroke="#4d4d4d" stroke-width="1"/>
<text x="676.50" y="754.10" font-size="9.7" text-anchor="end" fill="#222222" textLength="69.3" lengthAdjust="spacingAndGlyphs" transform="rotate(-90 676.50 754.10)">PostAZT&gt;=3mo</text>
<text x="620.30" y="428.50" font-size="10" text-anchor="middle" fill="#222222" textLength="18.5" lengthAdjust="spacingAndGlyphs">URT</text>
<text x="620.30" y="442.00" font-size="10" text-anchor="middle" fill="#222222" textLength="29.94" lengthAdjust="spacingAndGlyphs">p=0.31</text>
<line x1="424.50" y1="525.50" x2="451.50" y2="525.50" stroke="#4d4d4d" stroke-width="1"/>
<line x1="424.50" y1="525.00" x2="424.50" y2="530.20" stroke="#4d4d4d" stroke-width="1"/>
<line x1="451.50" y1="525.00" x2="451.50" y2="530.20" stroke="#4d4d4d" stroke-width="1"/>
<text x="438.00" y="521.70" font-size="10" text-anchor="middle" fill="#222222" textLength="18.3" lengthAdjust="spacingAndGlyphs">0.85</text>
<line x1="451.50" y1="509.50" x2="477.50" y2="509.50" stroke="#4d4d4d" stroke-width="1"/>
<line x1="451.50" y1="509.00" x2="451.50" y2="514.20" stroke="#4d4d4d" stroke-width="1"/>
<line x1="477.50" y1="509.00" x2="477.50" y2="514.20" stroke="#4d4d4d" stroke-width="1"/>
<text x="464.50" y="505.70" font-size="10" text-anchor="middle" fill="#222222" textLength="28.75" lengthAdjust="spacingAndGlyphs">0.0074</text>
<line x1="451.50" y1="488.50" x2="504.20" y2="488.50" stroke="#4d4d4d" stroke-width="1"/>
<line x1="451.50" y1="488.00" x2="451.50" y2="493.20" stroke="#4d4d4d" stroke-width="1"/>
<line x1="504.20" y1="488.00" x2="504.20" y2="493.20" stroke="#4d4d4d" stroke-width="1"/>
<text x="477.85" y="484.70" font-size="10" text-anchor="middle" fill="#222222" textLength="28.75" lengthAdjust="spacingAndGlyphs">0.0079</text>
<line x1="451.50" y1="469.50" x2="530.40" y2="469.50" stroke="#4d4d4d" stroke-width="1"/>
<line x1="451.50" y1="469.00" x2="451.50" y2="474.20" stroke="#4d4d4d" stroke-width="1"/>
<line x1="530.40" y1="469.00" x2="530.40" y2="474.20" stroke="#4d4d4d" stroke-width="1"/>
<text x="490.95" y="465.70" font-size="10" text-anchor="middle" fill="#222222" textLength="23.52" lengthAdjust="spacingAndGlyphs">0.041</text>
<line x1="425.20" y1="538.25" x2="425.20" y2="542.75" stroke="#4d4d4d" stroke-width="1"/>
<line x1="425.20" y1="577.00" x2="425.20" y2="620.00" stroke="#4d4d4d" stroke-width="1"/>
<rect x="415.95" y="542.75" width="18.50" height="34.25" fill="#c7cecd" stroke="#4d4d4d" stroke-width="0.9"/>
<line x1="415.95" y1="556.25" x2="434.45" y2="556.25" stroke="#4d4d4d" stroke-width="1"/>
<line x1="451.50" y1="537.00" x2="451.50" y2="542.75" stroke="#4d4d4d" stroke-width="1"/>
<line x1="451.50" y1="575.75" x2="451.50" y2="613.75" stroke="#4d4d4d" stroke-width="1"/>
<rect x="442.25" y="542.75" width="18.50" height="33.00" fill="#f3d192" stroke="#4d4d4d" stroke-width="0.9"/>
<line x1="442.25" y1="564.00" x2="460.75" y2="564.00" stroke="#4d4d4d" stroke-width="1"/>
<line x1="477.80" y1="558.25" x2="477.80" y2="578.75" stroke="#4d4d4d" stroke-width="1"/>
<line x1="477.80" y1="597.50" x2="477.80" y2="611.25" stroke="#4d4d4d" stroke-width="1"/>
<rect x="468.55" y="578.75" width="18.50" height="18.75" fill="#9adaf4" stroke="#4d4d4d" stroke-width="0.9"/>
<line x1="468.55" y1="591.75" x2="487.05" y2="591.75" stroke="#4d4d4d" stroke-width="1"/>
<line x1="504.10" y1="552.50" x2="504.10" y2="575.75" stroke="#4d4d4d" stroke-width="1"/>
<line x1="504.10" y1="598.25" x2="504.10" y2="625.75" stroke="#4d4d4d" stroke-width="1"/>
<rect x="494.85" y="575.75" width="18.50" height="22.50" fill="#83d3bc" stroke="#4d4d4d" stroke-width="0.9"/>
<line x1="494.85" y1="589.50" x2="513.35" y2="589.50" stroke="#4d4d4d" stroke-width="1"/>
<line x1="530.40" y1="563.25" x2="530.40" y2="571.25" stroke="#4d4d4d" stroke-width="1"/>
<line x1="530.40" y1="587.50" x2="530.40" y2="598.25" stroke="#4d4d4d" stroke-width="1"/>
<rect x="521.15" y="571.25" width="18.50" height="16.25" fill="#e5bcd5" stroke="#4d4d4d" stroke-width="0.9"/>
<line x1="521.15" y1="584.50" x2="539.65" y2="584.50" stroke="#4d4d4d" stroke-width="1"/>
<line x1="567.70" y1="546.50" x2="567.70" y2="581.25" stroke="#4d4d4d" stroke-width="1"/>
<line x1="567.70" y1="612.00" x2="567.70" y2="647.00" stroke="#4d4d4d" stroke-width="1"/>
<rect x="558.45" y="581.25" width="18.50" height="30.75" fill="#c7cecd" stroke="#4d4d4d" stroke-width="0.9"/>
<line x1="558.45" y1="589.25" x2="576.95" y2="589.25" stroke="#4d4d4d" stroke-width="1"/>
<line x1="594.00" y1="558.25" x2="594.00" y2="575.50" stroke="#4d4d4d" stroke-width="1"/>
<line x1="594.00" y1="600.75" x2="594.00" y2="638.75" stroke="#4d4d4d" stroke-width="1"/>
<rect x="584.75" y="575.50" width="18.50" height="25.25" fill="#f3d192" stroke="#4d4d4d" stroke-width="0.9"/>
<line x1="584.75" y1="583.00" x2="603.25" y2="583.00" stroke="#4d4d4d" stroke-width="1"/>
<line x1="620.30" y1="584.00" x2="620.30" y2="600.00" stroke="#4d4d4d" stroke-width="1"/>
<line x1="620.30" y1="618.25" x2="620.30" y2="621.75" stroke="#4d4d4d" stroke-width="1"/>
<rect x="611.05" y="600.00" width="18.50" height="18.25" fill="#9adaf4" stroke="#4d4d4d" stroke-width="0.9"/>
<line x1="611.05" y1="608.25" x2="629.55" y2="608.25" stroke="#4d4d4d" stroke-width="1"/>
<line x1="646.60" y1="555.00" x2="646.60" y2="588.75" stroke="#4d4d4d" stroke-width="1"/>
<line x1="646.60" y1="625.50" x2="646.60" y2="638.00" stroke="#4d4d4d" stroke-width="1"/>
<rect x="637.35" y="588.75" width="18.50" height="36.75" fill="#83d3bc" stroke="#4d4d4d" stroke-width="0.9"/>
<line x1="637.35" y1="603.25" x2="655.85" y2="603.25" stroke="#4d4d4d" stroke-width="1"/>
<line x1="672.90" y1="569.50" x2="672.90" y2="575.75" stroke="#4d4d4d" stroke-width="1"/>
<line x1="672.90" y1="618.25" x2="672.90" y2="657.50" stroke="#4d4d4d" stroke-width="1"/>
<rect x="663.65" y="575.75" width="18.50" height="42.50" fill="#e5bcd5" stroke="#4d4d4d" stroke-width="0.9"/>
<line x1="663.65" y1="594.25" x2="682.15" y2="594.25" stroke="#4d4d4d" stroke-width="1"/>
<circle cx="423.80" cy="538.90" r="2" fill="#d0d6d5" stroke="#262626" stroke-width="1"/>
<circle cx="422.40" cy="541.90" r="2" fill="#d0d6d5" stroke="#262626" stroke-width="1"/>
<circle cx="425.20" cy="542.30" r="2" fill="#d0d6d5" stroke="#262626" stroke-width="1"/>
<circle cx="428.40" cy="542.30" r="2" fill="#d0d6d5" stroke="#262626" stroke-width="1"/>
<circle cx="423.80" cy="543.80" r="2" fill="#d0d6d5" stroke="#262626" stroke-width="1"/>
<circle cx="423.80" cy="550.40" r="2" fill="#d0d6d5" stroke="#262626" stroke-width="1"/>
<circle cx="426.80" cy="554.70" r="2" fill="#d0d6d5" stroke="#262626" stroke-width="1"/>
<circle cx="427.80" cy="559.30" r="2" fill="#d0d6d5" stroke="#262626" stroke-width="1"/>
<circle cx="426.80" cy="560.60" r="2" fill="#d0d6d5" stroke="#262626" stroke-width="1"/>
<circle cx="424.80" cy="571.90" r="2" fill="#d0d6d5" stroke="#262626" stroke-width="1"/>
<circle cx="421.80" cy="579.00" r="2" fill="#d0d6d5" stroke="#262626" stroke-width="1"/>
<circle cx="426.80" cy="593.60" r="2" fill="#d0d6d5" stroke="#262626" stroke-width="1"/>
<circle cx="426.80" cy="620.30" r="2" fill="#d0d6d5" stroke="#262626" stroke-width="1"/>
<circle cx="423.80" cy="637.70" r="2" fill="#d0d6d5" stroke="#262626" stroke-width="1"/>
<circle cx="449.50" cy="537.90" r="2" fill="#f2cb84" stroke="#5a4a2c" stroke-width="1"/>
<circle cx="452.50" cy="538.90" r="2" fill="#f2cb84" stroke="#5a4a2c" stroke-width="1"/>
<circle cx="454.10" cy="540.90" r="2" fill="#f2cb84" stroke="#5a4a2c" stroke-width="1"/>
<circle cx="449.50" cy="544.80" r="2" fill="#f2cb84" stroke="#5a4a2c" stroke-width="1"/>
<circle cx="451.50" cy="547.40" r="2" fill="#f2cb84" stroke="#5a4a2c" stroke-width="1"/>
<circle cx="452.90" cy="550.40" r="2" fill="#f2cb84" stroke="#5a4a2c" stroke-width="1"/>
<circle cx="448.10" cy="564.00" r="2" fill="#f2cb84" stroke="#5a4a2c" stroke-width="1"/>
<circle cx="454.10" cy="567.60" r="2" fill="#f2cb84" stroke="#5a4a2c" stroke-width="1"/>
<circle cx="447.50" cy="570.50" r="2" fill="#f2cb84" stroke="#5a4a2c" stroke-width="1"/>
<circle cx="450.10" cy="575.50" r="2" fill="#f2cb84" stroke="#5a4a2c" stroke-width="1"/>
<circle cx="451.50" cy="577.00" r="2" fill="#f2cb84" stroke="#5a4a2c" stroke-width="1"/>
<circle cx="450.10" cy="585.30" r="2" fill="#f2cb84" stroke="#5a4a2c" stroke-width="1"/>
<circle cx="450.90" cy="612.60" r="2" fill="#f2cb84" stroke="#5a4a2c" stroke-width="1"/>
<circle cx="450.10" cy="614.60" r="2" fill="#f2cb84" stroke="#5a4a2c" stroke-width="1"/>
<circle cx="475.60" cy="559.10" r="2" fill="#8cd5f2" stroke="#2e4754" stroke-width="1"/>
<circle cx="479.60" cy="566.20" r="2" fill="#8cd5f2" stroke="#2e4754" stroke-width="1"/>
<circle cx="476.20" cy="577.00" r="2" fill="#8cd5f2" stroke="#2e4754" stroke-width="1"/>
<circle cx="478.20" cy="579.40" r="2" fill="#8cd5f2" stroke="#2e4754" stroke-width="1"/>
<circle cx="475.80" cy="589.30" r="2" fill="#8cd5f2" stroke="#2e4754" stroke-width="1"/>
<circle cx="473.80" cy="592.30" r="2" fill="#8cd5f2" stroke="#2e4754" stroke-width="1"/>
<circle cx="477.80" cy="593.60" r="2" fill="#8cd5f2" stroke="#2e4754" stroke-width="1"/>
<circle cx="479.20" cy="594.80" r="2" fill="#8cd5f2" stroke="#2e4754" stroke-width="1"/>
<circle cx="479.20" cy="606.10" r="2" fill="#8cd5f2" stroke="#2e4754" stroke-width="1"/>
<circle cx="479.80" cy="611.00" r="2" fill="#8cd5f2" stroke="#2e4754" stroke-width="1"/>
<circle cx="474.60" cy="633.80" r="2" fill="#8cd5f2" stroke="#2e4754" stroke-width="1"/>
<circle cx="502.90" cy="552.70" r="2" fill="#74cdb3" stroke="#284c40" stroke-width="1"/>
<circle cx="502.90" cy="561.20" r="2" fill="#74cdb3" stroke="#284c40" stroke-width="1"/>
<circle cx="502.90" cy="571.50" r="2" fill="#74cdb3" stroke="#284c40" stroke-width="1"/>
<circle cx="505.30" cy="575.10" r="2" fill="#74cdb3" stroke="#284c40" stroke-width="1"/>
<circle cx="507.80" cy="574.50" r="2" fill="#74cdb3" stroke="#284c40" stroke-width="1"/>
<circle cx="504.90" cy="586.90" r="2" fill="#74cdb3" stroke="#284c40" stroke-width="1"/>
<circle cx="503.50" cy="588.90" r="2" fill="#74cdb3" stroke="#284c40" stroke-width="1"/>
<circle cx="505.90" cy="590.30" r="2" fill="#74cdb3" stroke="#284c40" stroke-width="1"/>
<circle cx="501.90" cy="592.90" r="2" fill="#74cdb3" stroke="#284c40" stroke-width="1"/>
<circle cx="503.50" cy="594.20" r="2" fill="#74cdb3" stroke="#284c40" stroke-width="1"/>
<circle cx="500.90" cy="597.20" r="2" fill="#74cdb3" stroke="#284c40" stroke-width="1"/>
<circle cx="505.90" cy="597.20" r="2" fill="#74cdb3" stroke="#284c40" stroke-width="1"/>
<circle cx="508.40" cy="597.20" r="2" fill="#74cdb3" stroke="#284c40" stroke-width="1"/>
<circle cx="506.50" cy="599.20" r="2" fill="#74cdb3" stroke="#284c40" stroke-width="1"/>
<circle cx="501.50" cy="625.90" r="2" fill="#74cdb3" stroke="#284c40" stroke-width="1"/>
<circle cx="502.90" cy="637.70" r="2" fill="#74cdb3" stroke="#284c40" stroke-width="1"/>
<circle cx="528.20" cy="548.40" r="2" fill="#e2b4cf" stroke="#4f3a47" stroke-width="1"/>
<circle cx="531.00" cy="561.20" r="2" fill="#e2b4cf" stroke="#4f3a47" stroke-width="1"/>
<circle cx="532.50" cy="563.60" r="2" fill="#e2b4cf" stroke="#4f3a47" stroke-width="1"/>
<circle cx="532.50" cy="574.50" r="2" fill="#e2b4cf" stroke="#4f3a47" stroke-width="1"/>
<circle cx="529.20" cy="579.40" r="2" fill="#e2b4cf" stroke="#4f3a47" stroke-width="1"/>
<circle cx="528.60" cy="583.00" r="2" fill="#e2b4cf" stroke="#4f3a47" stroke-width="1"/>
<circle cx="529.60" cy="585.00" r="2" fill="#e2b4cf" stroke="#4f3a47" stroke-width="1"/>
<circle cx="534.10" cy="587.70" r="2" fill="#e2b4cf" stroke="#4f3a47" stroke-width="1"/>
<circle cx="530.00" cy="587.30" r="2" fill="#e2b4cf" stroke="#4f3a47" stroke-width="1"/>
<circle cx="528.20" cy="598.20" r="2" fill="#e2b4cf" stroke="#4f3a47" stroke-width="1"/>
<circle cx="528.20" cy="628.80" r="2" fill="#e2b4cf" stroke="#4f3a47" stroke-width="1"/>
<circle cx="569.80" cy="546.90" r="2" fill="#d0d6d5" stroke="#262626" stroke-width="1"/>
<circle cx="569.80" cy="554.80" r="2" fill="#d0d6d5" stroke="#262626" stroke-width="1"/>
<circle cx="565.40" cy="569.30" r="2" fill="#d0d6d5" stroke="#262626" stroke-width="1"/>
<circle cx="569.40" cy="568.30" r="2" fill="#d0d6d5" stroke="#262626" stroke-width="1"/>
<circle cx="568.80" cy="573.60" r="2" fill="#d0d6d5" stroke="#262626" stroke-width="1"/>
<circle cx="564.80" cy="580.50" r="2" fill="#d0d6d5" stroke="#262626" stroke-width="1"/>
<circle cx="566.20" cy="583.10" r="2" fill="#d0d6d5" stroke="#262626" stroke-width="1"/>
<circle cx="567.40" cy="584.50" r="2" fill="#d0d6d5" stroke="#262626" stroke-width="1"/>
<circle cx="565.80" cy="588.40" r="2" fill="#d0d6d5" stroke="#262626" stroke-width="1"/>
<circle cx="566.80" cy="591.00" r="2" fill="#d0d6d5" stroke="#262626" stroke-width="1"/>
<circle cx="564.80" cy="594.40" r="2" fill="#d0d6d5" stroke="#262626" stroke-width="1"/>
<circle cx="565.80" cy="598.90" r="2" fill="#d0d6d5" stroke="#262626" stroke-width="1"/>
<circle cx="565.40" cy="608.20" r="2" fill="#d0d6d5" stroke="#262626" stroke-width="1"/>
<circle cx="566.80" cy="611.20" r="2" fill="#d0d6d5" stroke="#262626" stroke-width="1"/>
<circle cx="567.80" cy="613.10" r="2" fill="#d0d6d5" stroke="#262626" stroke-width="1"/>
<circle cx="568.80" cy="632.50" r="2" fill="#d0d6d5" stroke="#262626" stroke-width="1"/>
<circle cx="570.20" cy="636.90" r="2" fill="#d0d6d5" stroke="#262626" stroke-width="1"/>
<circle cx="565.00" cy="647.00" r="2" fill="#d0d6d5" stroke="#262626" stroke-width="1"/>
<circle cx="567.50" cy="671.75" r="2" fill="#d0d6d5" stroke="#262626" stroke-width="1"/>
<circle cx="569.25" cy="688.00" r="2" fill="#d0d6d5" stroke="#262626" stroke-width="1"/>
<circle cx="593.10" cy="558.20" r="2" fill="#f2cb84" stroke="#5a4a2c" stroke-width="1"/>
<circle cx="593.50" cy="568.30" r="2" fill="#f2cb84" stroke="#5a4a2c" stroke-width="1"/>
<circle cx="595.90" cy="571.60" r="2" fill="#f2cb84" stroke="#5a4a2c" stroke-width="1"/>
<circle cx="597.10" cy="575.60" r="2" fill="#f2cb84" stroke="#5a4a2c" stroke-width="1"/>
<circle cx="594.50" cy="577.60" r="2" fill="#f2cb84" stroke="#5a4a2c" stroke-width="1"/>
<circle cx="593.10" cy="579.50" r="2" fill="#f2cb84" stroke="#5a4a2c" stroke-width="1"/>
<circle cx="591.50" cy="581.90" r="2" fill="#f2cb84" stroke="#5a4a2c" stroke-width="1"/>
<circle cx="593.50" cy="584.50" r="2" fill="#f2cb84" stroke="#5a4a2c" stroke-width="1"/>
<circle cx="595.90" cy="593.00" r="2" fill="#f2cb84" stroke="#5a4a2c" stroke-width="1"/>
<circle cx="592.50" cy="597.30" r="2" fill="#f2cb84" stroke="#5a4a2c" stroke-width="1"/>
<circle cx="591.10" cy="600.30" r="2" fill="#f2cb84" stroke="#5a4a2c" stroke-width="1"/>
<circle cx="592.10" cy="604.20" r="2" fill="#f2cb84" stroke="#5a4a2c" stroke-width="1"/>
<circle cx="592.50" cy="618.70" r="2" fill="#f2cb84" stroke="#5a4a2c" stroke-width="1"/>
<circle cx="595.90" cy="621.40" r="2" fill="#f2cb84" stroke="#5a4a2c" stroke-width="1"/>
<circle cx="592.50" cy="638.20" r="2" fill="#f2cb84" stroke="#5a4a2c" stroke-width="1"/>
<circle cx="620.20" cy="556.80" r="2" fill="#8cd5f2" stroke="#2e4754" stroke-width="1"/>
<circle cx="622.20" cy="586.50" r="2" fill="#8cd5f2" stroke="#2e4754" stroke-width="1"/>
<circle cx="620.20" cy="598.90" r="2" fill="#8cd5f2" stroke="#2e4754" stroke-width="1"/>
<circle cx="621.20" cy="601.70" r="2" fill="#8cd5f2" stroke="#2e4754" stroke-width="1"/>
<circle cx="623.60" cy="609.20" r="2" fill="#8cd5f2" stroke="#2e4754" stroke-width="1"/>
<circle cx="617.80" cy="612.70" r="2" fill="#8cd5f2" stroke="#2e4754" stroke-width="1"/>
<circle cx="620.80" cy="621.60" r="2" fill="#8cd5f2" stroke="#2e4754" stroke-width="1"/>
<circle cx="618.50" cy="654.25" r="2" fill="#8cd5f2" stroke="#2e4754" stroke-width="1"/>
<circle cx="622.25" cy="656.25" r="2" fill="#8cd5f2" stroke="#2e4754" stroke-width="1"/>
<circle cx="648.50" cy="554.40" r="2" fill="#74cdb3" stroke="#284c40" stroke-width="1"/>
<circle cx="649.80" cy="561.30" r="2" fill="#74cdb3" stroke="#284c40" stroke-width="1"/>
<circle cx="647.30" cy="581.10" r="2" fill="#74cdb3" stroke="#284c40" stroke-width="1"/>
<circle cx="648.90" cy="587.00" r="2" fill="#74cdb3" stroke="#284c40" stroke-width="1"/>
<circle cx="646.50" cy="588.40" r="2" fill="#74cdb3" stroke="#284c40" stroke-width="1"/>
<circle cx="648.90" cy="591.00" r="2" fill="#74cdb3" stroke="#284c40" stroke-width="1"/>
<circle cx="643.90" cy="593.80" r="2" fill="#74cdb3" stroke="#284c40" stroke-width="1"/>
<circle cx="648.50" cy="597.30" r="2" fill="#74cdb3" stroke="#284c40" stroke-width="1"/>
<circle cx="643.90" cy="603.60" r="2" fill="#74cdb3" stroke="#284c40" stroke-width="1"/>
<circle cx="649.80" cy="602.90" r="2" fill="#74cdb3" stroke="#284c40" stroke-width="1"/>
<circle cx="649.30" cy="608.20" r="2" fill="#74cdb3" stroke="#284c40" stroke-width="1"/>
<circle cx="648.50" cy="616.10" r="2" fill="#74cdb3" stroke="#284c40" stroke-width="1"/>
<circle cx="644.50" cy="622.60" r="2" fill="#74cdb3" stroke="#284c40" stroke-width="1"/>
<circle cx="646.50" cy="625.40" r="2" fill="#74cdb3" stroke="#284c40" stroke-width="1"/>
<circle cx="648.90" cy="626.60" r="2" fill="#74cdb3" stroke="#284c40" stroke-width="1"/>
<circle cx="644.50" cy="632.90" r="2" fill="#74cdb3" stroke="#284c40" stroke-width="1"/>
<circle cx="643.90" cy="637.80" r="2" fill="#74cdb3" stroke="#284c40" stroke-width="1"/>
<circle cx="644.75" cy="732.00" r="2" fill="#74cdb3" stroke="#284c40" stroke-width="1"/>
<circle cx="676.90" cy="569.30" r="2" fill="#e2b4cf" stroke="#4f3a47" stroke-width="1"/>
<circle cx="674.90" cy="570.60" r="2" fill="#e2b4cf" stroke="#4f3a47" stroke-width="1"/>
<circle cx="673.00" cy="573.60" r="2" fill="#e2b4cf" stroke="#4f3a47" stroke-width="1"/>
<circle cx="672.20" cy="576.60" r="2" fill="#e2b4cf" stroke="#4f3a47" stroke-width="1"/>
<circle cx="672.60" cy="589.00" r="2" fill="#e2b4cf" stroke="#4f3a47" stroke-width="1"/>
<circle cx="676.10" cy="589.00" r="2" fill="#e2b4cf" stroke="#4f3a47" stroke-width="1"/>
<circle cx="672.20" cy="597.70" r="2" fill="#e2b4cf" stroke="#4f3a47" stroke-width="1"/>
<circle cx="675.50" cy="612.70" r="2" fill="#e2b4cf" stroke="#4f3a47" stroke-width="1"/>
<circle cx="672.60" cy="616.10" r="2" fill="#e2b4cf" stroke="#4f3a47" stroke-width="1"/>
<circle cx="675.50" cy="622.00" r="2" fill="#e2b4cf" stroke="#4f3a47" stroke-width="1"/>
<circle cx="671.00" cy="642.50" r="2" fill="#e2b4cf" stroke="#4f3a47" stroke-width="1"/>
<circle cx="673.00" cy="657.50" r="2" fill="#e2b4cf" stroke="#4f3a47" stroke-width="1"/>
</svg>
</body></html>
